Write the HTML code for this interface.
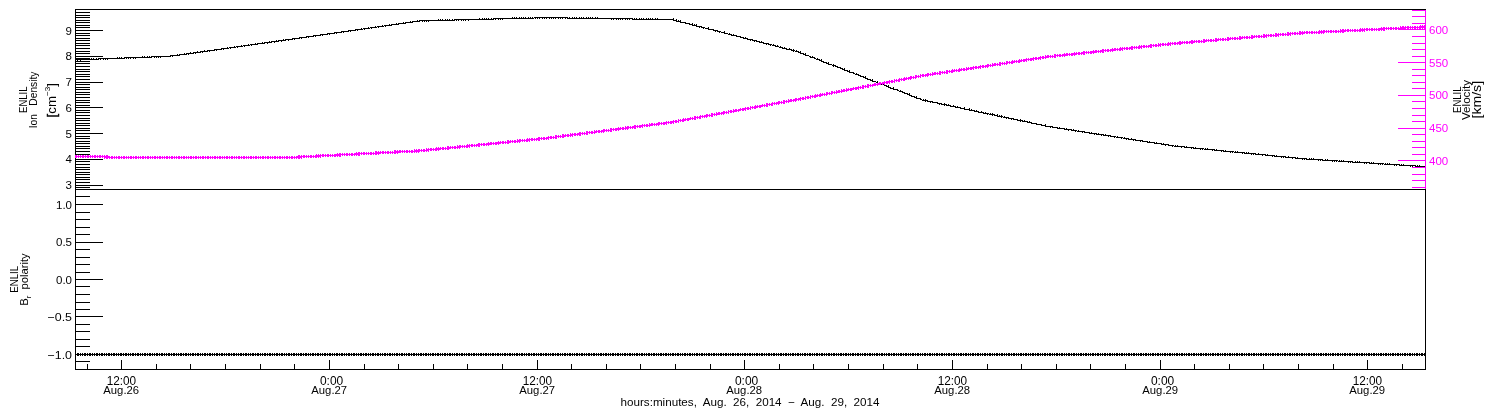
<!DOCTYPE html>
<html><head><meta charset="utf-8"><title>ENLIL plot</title>
<style>
html,body{margin:0;padding:0;background:#fff;}
svg{display:block}
text{font-family:"Liberation Sans",sans-serif}
</style></head><body>
<svg width="1500" height="410" viewBox="0 0 1500 410">
<rect x="0" y="0" width="1500" height="410" fill="#fff"/>
<g shape-rendering="crispEdges">
<path fill="#000" d="M75 9h1351v1h-1351zM75 10h1v1h-1zM75 11h1v1h-1zM75 12h15v1h-15zM75 13h1v1h-1zM75 14h1v1h-1zM75 15h15v1h-15zM75 16h1v1h-1zM75 17h15v1h-15zM512 17h1v1h-1zM514 17h1v1h-1zM516 17h1v1h-1zM519 17h1v1h-1zM521 17h1v1h-1zM523 17h1v1h-1zM525 17h1v1h-1zM528 17h1v1h-1zM530 17h1v1h-1zM532 17h1v1h-1zM534 17h34v1h-34zM569 17h1v1h-1zM572 17h1v1h-1zM574 17h1v1h-1zM576 17h1v1h-1zM579 17h1v1h-1zM581 17h1v1h-1zM583 17h1v1h-1zM586 17h1v1h-1zM588 17h1v1h-1zM590 17h1v1h-1zM592 17h1v1h-1zM595 17h1v1h-1zM597 17h1v1h-1zM75 18h1v1h-1zM479 18h1v1h-1zM482 18h1v1h-1zM484 18h1v1h-1zM486 18h1v1h-1zM488 18h1v1h-1zM491 18h1v1h-1zM493 18h41v1h-41zM535 18h1v1h-1zM537 18h1v1h-1zM539 18h1v1h-1zM542 18h1v1h-1zM544 18h1v1h-1zM546 18h1v1h-1zM549 18h1v1h-1zM551 18h1v1h-1zM553 18h1v1h-1zM555 18h1v1h-1zM558 18h1v1h-1zM560 18h1v1h-1zM562 18h1v1h-1zM565 18h1v1h-1zM567 18h66v1h-66zM634 18h1v1h-1zM636 18h1v1h-1zM639 18h1v1h-1zM641 18h1v1h-1zM643 18h1v1h-1zM646 18h1v1h-1zM648 18h1v1h-1zM650 18h1v1h-1zM652 18h1v1h-1zM655 18h1v1h-1zM657 18h1v1h-1zM673 18h1v1h-1zM75 19h1v1h-1zM438 19h1v1h-1zM440 19h1v1h-1zM442 19h1v1h-1zM445 19h1v1h-1zM447 19h1v1h-1zM449 19h1v1h-1zM452 19h1v1h-1zM454 19h40v1h-40zM495 19h1v1h-1zM498 19h1v1h-1zM500 19h1v1h-1zM502 19h1v1h-1zM611 19h1v1h-1zM613 19h1v1h-1zM616 19h1v1h-1zM618 19h1v1h-1zM620 19h1v1h-1zM622 19h1v1h-1zM625 19h1v1h-1zM627 19h1v1h-1zM629 19h1v1h-1zM632 19h42v1h-42zM676 19h1v1h-1zM75 20h15v1h-15zM417 20h1v1h-1zM419 20h36v1h-36zM456 20h1v1h-1zM458 20h1v1h-1zM461 20h1v1h-1zM463 20h1v1h-1zM465 20h1v1h-1zM468 20h1v1h-1zM673 20h4v1h-4zM678 20h1v1h-1zM680 20h1v1h-1zM75 21h1v1h-1zM410 21h1v1h-1zM412 21h8v1h-8zM422 21h1v1h-1zM424 21h1v1h-1zM426 21h1v1h-1zM428 21h1v1h-1zM676 21h5v1h-5zM75 22h15v1h-15zM403 22h1v1h-1zM405 22h8v1h-8zM680 22h6v1h-6zM75 23h1v1h-1zM396 23h1v1h-1zM398 23h8v1h-8zM685 23h5v1h-5zM692 23h1v1h-1zM75 24h1v1h-1zM389 24h1v1h-1zM391 24h8v1h-8zM689 24h4v1h-4zM694 24h1v1h-1zM696 24h1v1h-1zM75 25h15v1h-15zM382 25h1v1h-1zM384 25h8v1h-8zM692 25h5v1h-5zM75 26h1v1h-1zM375 26h1v1h-1zM377 26h7v1h-7zM385 26h1v1h-1zM696 26h6v1h-6zM75 27h15v1h-15zM368 27h1v1h-1zM370 27h7v1h-7zM378 27h1v1h-1zM699 27h1v1h-1zM701 27h4v1h-4zM708 27h1v1h-1zM75 28h1v1h-1zM361 28h1v1h-1zM363 28h7v1h-7zM371 28h1v1h-1zM703 28h1v1h-1zM705 28h4v1h-4zM75 29h1v1h-1zM355 29h8v1h-8zM364 29h1v1h-1zM708 29h6v1h-6zM75 30h28v1h-28zM348 30h8v1h-8zM357 30h1v1h-1zM713 30h5v1h-5zM75 31h1v1h-1zM341 31h8v1h-8zM350 31h1v1h-1zM715 31h1v1h-1zM717 31h4v1h-4zM724 31h1v1h-1zM75 32h1v1h-1zM334 32h8v1h-8zM343 32h1v1h-1zM719 32h1v1h-1zM721 32h4v1h-4zM75 33h15v1h-15zM327 33h8v1h-8zM336 33h1v1h-1zM724 33h4v1h-4zM729 33h1v1h-1zM75 34h1v1h-1zM320 34h8v1h-8zM329 34h1v1h-1zM728 34h4v1h-4zM733 34h1v1h-1zM75 35h15v1h-15zM313 35h8v1h-8zM322 35h1v1h-1zM731 35h6v1h-6zM75 36h1v1h-1zM306 36h8v1h-8zM315 36h1v1h-1zM736 36h5v1h-5zM75 37h1v1h-1zM299 37h8v1h-8zM308 37h1v1h-1zM740 37h4v1h-4zM745 37h1v1h-1zM75 38h15v1h-15zM292 38h8v1h-8zM301 38h1v1h-1zM743 38h5v1h-5zM75 39h1v1h-1zM283 39h1v1h-1zM285 39h8v1h-8zM294 39h1v1h-1zM747 39h6v1h-6zM75 40h15v1h-15zM276 40h1v1h-1zM278 40h8v1h-8zM288 40h1v1h-1zM750 40h1v1h-1zM752 40h5v1h-5zM75 41h1v1h-1zM269 41h1v1h-1zM271 41h8v1h-8zM281 41h1v1h-1zM754 41h1v1h-1zM756 41h4v1h-4zM761 41h1v1h-1zM75 42h1v1h-1zM262 42h1v1h-1zM264 42h8v1h-8zM274 42h1v1h-1zM759 42h5v1h-5zM75 43h15v1h-15zM255 43h1v1h-1zM257 43h8v1h-8zM267 43h1v1h-1zM763 43h6v1h-6zM75 44h1v1h-1zM248 44h1v1h-1zM250 44h8v1h-8zM766 44h1v1h-1zM768 44h4v1h-4zM773 44h1v1h-1zM75 45h15v1h-15zM241 45h1v1h-1zM243 45h7v1h-7zM251 45h1v1h-1zM770 45h1v1h-1zM772 45h4v1h-4zM777 45h1v1h-1zM75 46h1v1h-1zM234 46h1v1h-1zM236 46h7v1h-7zM244 46h1v1h-1zM775 46h4v1h-4zM780 46h1v1h-1zM75 47h1v1h-1zM227 47h1v1h-1zM229 47h7v1h-7zM237 47h1v1h-1zM779 47h4v1h-4zM784 47h1v1h-1zM75 48h15v1h-15zM221 48h8v1h-8zM230 48h1v1h-1zM782 48h5v1h-5zM789 48h1v1h-1zM75 49h1v1h-1zM214 49h8v1h-8zM223 49h1v1h-1zM786 49h6v1h-6zM793 49h1v1h-1zM75 50h1v1h-1zM204 50h1v1h-1zM207 50h8v1h-8zM216 50h1v1h-1zM791 50h4v1h-4zM796 50h1v1h-1zM75 51h15v1h-15zM197 51h1v1h-1zM200 51h8v1h-8zM209 51h1v1h-1zM793 51h1v1h-1zM795 51h4v1h-4zM800 51h1v1h-1zM75 52h1v1h-1zM190 52h1v1h-1zM193 52h8v1h-8zM202 52h1v1h-1zM798 52h3v1h-3zM75 53h15v1h-15zM184 53h1v1h-1zM186 53h8v1h-8zM195 53h1v1h-1zM800 53h4v1h-4zM805 53h1v1h-1zM75 54h1v1h-1zM177 54h1v1h-1zM179 54h8v1h-8zM188 54h1v1h-1zM803 54h3v1h-3zM75 55h1v1h-1zM170 55h10v1h-10zM805 55h4v1h-4zM75 56h28v1h-28zM142 56h1v1h-1zM144 56h1v1h-1zM147 56h1v1h-1zM149 56h1v1h-1zM151 56h20v1h-20zM172 56h1v1h-1zM809 56h2v1h-2zM812 56h1v1h-1zM75 57h1v1h-1zM117 57h1v1h-1zM119 57h1v1h-1zM121 57h1v1h-1zM124 57h28v1h-28zM154 57h1v1h-1zM156 57h1v1h-1zM158 57h1v1h-1zM160 57h1v1h-1zM810 57h5v1h-5zM75 58h15v1h-15zM91 58h1v1h-1zM93 58h1v1h-1zM96 58h1v1h-1zM98 58h27v1h-27zM126 58h1v1h-1zM128 58h1v1h-1zM130 58h1v1h-1zM133 58h1v1h-1zM135 58h1v1h-1zM814 58h2v1h-2zM817 58h1v1h-1zM75 59h24v1h-24zM100 59h1v1h-1zM103 59h1v1h-1zM105 59h1v1h-1zM107 59h1v1h-1zM816 59h4v1h-4zM821 59h1v1h-1zM75 60h1v1h-1zM77 60h1v1h-1zM80 60h1v1h-1zM819 60h3v1h-3zM75 61h15v1h-15zM821 61h3v1h-3zM75 62h1v1h-1zM823 62h4v1h-4zM828 62h1v1h-1zM75 63h15v1h-15zM826 63h3v1h-3zM75 64h1v1h-1zM828 64h4v1h-4zM833 64h1v1h-1zM75 65h1v1h-1zM832 65h4v1h-4zM75 66h15v1h-15zM833 66h1v1h-1zM835 66h3v1h-3zM75 67h1v1h-1zM837 67h4v1h-4zM75 68h1v1h-1zM840 68h3v1h-3zM844 68h1v1h-1zM75 69h15v1h-15zM842 69h3v1h-3zM75 70h1v1h-1zM844 70h4v1h-4zM849 70h1v1h-1zM75 71h15v1h-15zM847 71h3v1h-3zM75 72h1v1h-1zM849 72h5v1h-5zM75 73h1v1h-1zM853 73h2v1h-2zM856 73h1v1h-1zM75 74h15v1h-15zM855 74h4v1h-4zM75 75h1v1h-1zM858 75h3v1h-3zM75 76h15v1h-15zM860 76h4v1h-4zM865 76h1v1h-1zM75 77h1v1h-1zM863 77h3v1h-3zM75 78h1v1h-1zM865 78h3v1h-3zM75 79h15v1h-15zM867 79h4v1h-4zM872 79h1v1h-1zM75 80h1v1h-1zM870 80h3v1h-3zM75 81h1v1h-1zM872 81h4v1h-4zM877 81h1v1h-1zM75 82h28v1h-28zM876 82h2v1h-2zM75 83h1v1h-1zM75 84h15v1h-15zM881 84h1v1h-1zM883 84h1v1h-1zM75 85h1v1h-1zM884 85h3v1h-3zM888 85h1v1h-1zM75 86h1v1h-1zM886 86h3v1h-3zM75 87h15v1h-15zM888 87h3v1h-3zM893 87h1v1h-1zM75 88h1v1h-1zM890 88h4v1h-4zM75 89h15v1h-15zM893 89h5v1h-5zM75 90h1v1h-1zM897 90h2v1h-2zM900 90h1v1h-1zM75 91h1v1h-1zM899 91h4v1h-4zM75 92h15v1h-15zM902 92h3v1h-3zM75 93h1v1h-1zM904 93h4v1h-4zM909 93h1v1h-1zM75 94h15v1h-15zM907 94h3v1h-3zM75 95h1v1h-1zM909 95h3v1h-3zM75 96h1v1h-1zM911 96h4v1h-4zM916 96h1v1h-1zM75 97h15v1h-15zM914 97h3v1h-3zM75 98h1v1h-1zM916 98h5v1h-5zM75 99h1v1h-1zM920 99h2v1h-2zM923 99h1v1h-1zM925 99h1v1h-1zM75 100h15v1h-15zM922 100h6v1h-6zM75 101h1v1h-1zM925 101h1v1h-1zM927 101h6v1h-6zM75 102h15v1h-15zM930 102h1v1h-1zM932 102h6v1h-6zM75 103h1v1h-1zM937 103h5v1h-5zM944 103h1v1h-1zM75 104h1v1h-1zM939 104h1v1h-1zM941 104h6v1h-6zM948 104h1v1h-1zM75 105h15v1h-15zM944 105h1v1h-1zM946 105h5v1h-5zM953 105h1v1h-1zM75 106h1v1h-1zM950 106h6v1h-6zM957 106h1v1h-1zM75 107h28v1h-28zM955 107h6v1h-6zM964 107h1v1h-1zM75 108h1v1h-1zM960 108h5v1h-5zM969 108h1v1h-1zM75 109h1v1h-1zM964 109h6v1h-6zM971 109h1v1h-1zM75 110h15v1h-15zM969 110h6v1h-6zM976 110h1v1h-1zM75 111h1v1h-1zM974 111h5v1h-5zM981 111h1v1h-1zM75 112h15v1h-15zM978 112h6v1h-6zM985 112h1v1h-1zM75 113h1v1h-1zM983 113h6v1h-6zM990 113h1v1h-1zM992 113h1v1h-1zM75 114h1v1h-1zM987 114h1v1h-1zM989 114h6v1h-6zM997 114h1v1h-1zM75 115h15v1h-15zM992 115h1v1h-1zM994 115h4v1h-4zM999 115h1v1h-1zM1001 115h1v1h-1zM75 116h1v1h-1zM997 116h6v1h-6zM1004 116h1v1h-1zM75 117h1v1h-1zM1001 117h1v1h-1zM1003 117h6v1h-6zM75 118h15v1h-15zM1006 118h1v1h-1zM1008 118h6v1h-6zM75 119h1v1h-1zM1011 119h1v1h-1zM1013 119h5v1h-5zM1020 119h1v1h-1zM75 120h15v1h-15zM1017 120h6v1h-6zM1024 120h1v1h-1zM75 121h1v1h-1zM1020 121h1v1h-1zM1022 121h6v1h-6zM1029 121h1v1h-1zM75 122h1v1h-1zM1027 122h5v1h-5zM75 123h15v1h-15zM1031 123h6v1h-6zM75 124h1v1h-1zM1036 124h6v1h-6zM1045 124h1v1h-1zM75 125h15v1h-15zM1041 125h5v1h-5zM75 126h1v1h-1zM1045 126h8v1h-8zM75 127h1v1h-1zM1050 127h1v1h-1zM1052 127h6v1h-6zM1059 127h1v1h-1zM75 128h15v1h-15zM1057 128h8v1h-8zM1066 128h1v1h-1zM75 129h1v1h-1zM1064 129h8v1h-8zM1073 129h1v1h-1zM75 130h15v1h-15zM1068 130h1v1h-1zM1071 130h6v1h-6zM1078 130h1v1h-1zM75 131h1v1h-1zM1075 131h1v1h-1zM1077 131h8v1h-8zM75 132h1v1h-1zM1082 132h1v1h-1zM1084 132h6v1h-6zM1091 132h1v1h-1zM75 133h28v1h-28zM1089 133h8v1h-8zM1098 133h1v1h-1zM75 134h1v1h-1zM1094 134h1v1h-1zM1096 134h8v1h-8zM1105 134h1v1h-1zM75 135h1v1h-1zM1101 135h1v1h-1zM1103 135h8v1h-8zM75 136h15v1h-15zM1108 136h1v1h-1zM1110 136h6v1h-6zM1117 136h1v1h-1zM75 137h1v1h-1zM1114 137h1v1h-1zM1116 137h7v1h-7zM1124 137h1v1h-1zM75 138h15v1h-15zM1121 138h1v1h-1zM1123 138h6v1h-6zM1131 138h1v1h-1zM75 139h1v1h-1zM1126 139h1v1h-1zM1128 139h8v1h-8zM75 140h1v1h-1zM1133 140h1v1h-1zM1135 140h8v1h-8zM75 141h15v1h-15zM1140 141h1v1h-1zM1142 141h6v1h-6zM1149 141h1v1h-1zM75 142h1v1h-1zM1147 142h8v1h-8zM1156 142h1v1h-1zM75 143h15v1h-15zM1154 143h8v1h-8zM1163 143h1v1h-1zM75 144h1v1h-1zM1161 144h8v1h-8zM75 145h1v1h-1zM1165 145h1v1h-1zM1168 145h6v1h-6zM1175 145h1v1h-1zM1177 145h1v1h-1zM75 146h15v1h-15zM1172 146h1v1h-1zM1174 146h11v1h-11zM1186 146h1v1h-1zM75 147h1v1h-1zM1181 147h1v1h-1zM1184 147h10v1h-10zM1195 147h1v1h-1zM75 148h15v1h-15zM1191 148h1v1h-1zM1193 148h11v1h-11zM1205 148h1v1h-1zM1207 148h1v1h-1zM75 149h1v1h-1zM1200 149h1v1h-1zM1202 149h1v1h-1zM1204 149h11v1h-11zM1216 149h1v1h-1zM75 150h1v1h-1zM1212 150h1v1h-1zM1214 150h10v1h-10zM1225 150h1v1h-1zM75 151h15v1h-15zM1221 151h1v1h-1zM1223 151h11v1h-11zM1235 151h1v1h-1zM1237 151h1v1h-1zM75 152h1v1h-1zM1230 152h1v1h-1zM1232 152h1v1h-1zM1234 152h11v1h-11zM1246 152h1v1h-1zM1248 152h1v1h-1zM75 153h1v1h-1zM1242 153h1v1h-1zM1244 153h12v1h-12zM1258 153h1v1h-1zM75 154h15v1h-15zM1251 154h1v1h-1zM1253 154h1v1h-1zM1255 154h11v1h-11zM1267 154h1v1h-1zM1262 155h1v1h-1zM1265 155h10v1h-10zM1276 155h1v1h-1zM1272 156h1v1h-1zM1274 156h12v1h-12zM1288 156h1v1h-1zM1281 157h1v1h-1zM1283 157h1v1h-1zM1285 157h11v1h-11zM1297 157h1v1h-1zM75 158h1v1h-1zM1292 158h1v1h-1zM1295 158h12v1h-12zM1309 158h1v1h-1zM1311 158h1v1h-1zM1313 158h1v1h-1zM75 159h28v1h-28zM1302 159h1v1h-1zM1304 159h1v1h-1zM1306 159h17v1h-17zM1325 159h1v1h-1zM1327 159h1v1h-1zM75 160h1v1h-1zM1318 160h1v1h-1zM1320 160h1v1h-1zM1322 160h16v1h-16zM1339 160h1v1h-1zM1341 160h1v1h-1zM1343 160h1v1h-1zM75 161h15v1h-15zM1332 161h1v1h-1zM1334 161h1v1h-1zM1336 161h1v1h-1zM1338 161h15v1h-15zM1355 161h1v1h-1zM1357 161h1v1h-1zM1359 161h1v1h-1zM75 162h1v1h-1zM1348 162h1v1h-1zM1350 162h1v1h-1zM1352 162h18v1h-18zM1371 162h1v1h-1zM1373 162h1v1h-1zM75 163h1v1h-1zM1364 163h1v1h-1zM1366 163h1v1h-1zM1369 163h15v1h-15zM1385 163h1v1h-1zM1387 163h1v1h-1zM1389 163h1v1h-1zM75 164h15v1h-15zM1378 164h1v1h-1zM1380 164h1v1h-1zM1382 164h1v1h-1zM1384 164h16v1h-16zM1401 164h1v1h-1zM1403 164h1v1h-1zM75 165h1v1h-1zM1394 165h1v1h-1zM1396 165h1v1h-1zM1399 165h17v1h-17zM1417 165h1v1h-1zM1419 165h1v1h-1zM75 166h1v1h-1zM1410 166h1v1h-1zM1412 166h1v1h-1zM1415 166h10v1h-10zM75 167h15v1h-15zM75 168h1v1h-1zM75 169h15v1h-15zM75 170h1v1h-1zM75 171h1v1h-1zM75 172h15v1h-15zM75 173h1v1h-1zM75 174h15v1h-15zM75 175h1v1h-1zM75 176h1v1h-1zM75 177h15v1h-15zM75 178h1v1h-1zM75 179h15v1h-15zM75 180h1v1h-1zM75 181h1v1h-1zM75 182h15v1h-15zM75 183h1v1h-1zM75 184h1v1h-1zM75 185h28v1h-28zM75 186h1v1h-1zM75 187h15v1h-15zM75 188h1v1h-1zM75 189h1351v1h-1351zM75 190h1v1h-1zM1425 190h1v1h-1zM75 191h1v1h-1zM1425 191h1v1h-1zM75 192h1v1h-1zM1425 192h1v1h-1zM75 193h1v1h-1zM1425 193h1v1h-1zM75 194h1v1h-1zM1425 194h1v1h-1zM75 195h1v1h-1zM1425 195h1v1h-1zM75 196h15v1h-15zM1425 196h1v1h-1zM75 197h1v1h-1zM1425 197h1v1h-1zM75 198h1v1h-1zM1425 198h1v1h-1zM75 199h1v1h-1zM1425 199h1v1h-1zM75 200h1v1h-1zM1425 200h1v1h-1zM75 201h1v1h-1zM1425 201h1v1h-1zM75 202h1v1h-1zM1425 202h1v1h-1zM75 203h1v1h-1zM1425 203h1v1h-1zM75 204h28v1h-28zM1425 204h1v1h-1zM75 205h1v1h-1zM1425 205h1v1h-1zM75 206h1v1h-1zM1425 206h1v1h-1zM75 207h1v1h-1zM1425 207h1v1h-1zM75 208h1v1h-1zM1425 208h1v1h-1zM75 209h1v1h-1zM1425 209h1v1h-1zM75 210h1v1h-1zM1425 210h1v1h-1zM75 211h1v1h-1zM1425 211h1v1h-1zM75 212h15v1h-15zM1425 212h1v1h-1zM75 213h1v1h-1zM1425 213h1v1h-1zM75 214h1v1h-1zM1425 214h1v1h-1zM75 215h1v1h-1zM1425 215h1v1h-1zM75 216h1v1h-1zM1425 216h1v1h-1zM75 217h1v1h-1zM1425 217h1v1h-1zM75 218h1v1h-1zM1425 218h1v1h-1zM75 219h15v1h-15zM1425 219h1v1h-1zM75 220h1v1h-1zM1425 220h1v1h-1zM75 221h1v1h-1zM1425 221h1v1h-1zM75 222h1v1h-1zM1425 222h1v1h-1zM75 223h1v1h-1zM1425 223h1v1h-1zM75 224h1v1h-1zM1425 224h1v1h-1zM75 225h1v1h-1zM1425 225h1v1h-1zM75 226h1v1h-1zM1425 226h1v1h-1zM75 227h15v1h-15zM1425 227h1v1h-1zM75 228h1v1h-1zM1425 228h1v1h-1zM75 229h1v1h-1zM1425 229h1v1h-1zM75 230h1v1h-1zM1425 230h1v1h-1zM75 231h1v1h-1zM1425 231h1v1h-1zM75 232h1v1h-1zM1425 232h1v1h-1zM75 233h1v1h-1zM1425 233h1v1h-1zM75 234h15v1h-15zM1425 234h1v1h-1zM75 235h1v1h-1zM1425 235h1v1h-1zM75 236h1v1h-1zM1425 236h1v1h-1zM75 237h1v1h-1zM1425 237h1v1h-1zM75 238h1v1h-1zM1425 238h1v1h-1zM75 239h1v1h-1zM1425 239h1v1h-1zM75 240h1v1h-1zM1425 240h1v1h-1zM75 241h1v1h-1zM1425 241h1v1h-1zM75 242h28v1h-28zM1425 242h1v1h-1zM75 243h1v1h-1zM1425 243h1v1h-1zM75 244h1v1h-1zM1425 244h1v1h-1zM75 245h1v1h-1zM1425 245h1v1h-1zM75 246h1v1h-1zM1425 246h1v1h-1zM75 247h1v1h-1zM1425 247h1v1h-1zM75 248h1v1h-1zM1425 248h1v1h-1zM75 249h15v1h-15zM1425 249h1v1h-1zM75 250h1v1h-1zM1425 250h1v1h-1zM75 251h1v1h-1zM1425 251h1v1h-1zM75 252h1v1h-1zM1425 252h1v1h-1zM75 253h1v1h-1zM1425 253h1v1h-1zM75 254h1v1h-1zM1425 254h1v1h-1zM75 255h1v1h-1zM1425 255h1v1h-1zM75 256h1v1h-1zM1425 256h1v1h-1zM75 257h15v1h-15zM1425 257h1v1h-1zM75 258h1v1h-1zM1425 258h1v1h-1zM75 259h1v1h-1zM1425 259h1v1h-1zM75 260h1v1h-1zM1425 260h1v1h-1zM75 261h1v1h-1zM1425 261h1v1h-1zM75 262h1v1h-1zM1425 262h1v1h-1zM75 263h1v1h-1zM1425 263h1v1h-1zM75 264h15v1h-15zM1425 264h1v1h-1zM75 265h1v1h-1zM1425 265h1v1h-1zM75 266h1v1h-1zM1425 266h1v1h-1zM75 267h1v1h-1zM1425 267h1v1h-1zM75 268h1v1h-1zM1425 268h1v1h-1zM75 269h1v1h-1zM1425 269h1v1h-1zM75 270h1v1h-1zM1425 270h1v1h-1zM75 271h1v1h-1zM1425 271h1v1h-1zM75 272h15v1h-15zM1425 272h1v1h-1zM75 273h1v1h-1zM1425 273h1v1h-1zM75 274h1v1h-1zM1425 274h1v1h-1zM75 275h1v1h-1zM1425 275h1v1h-1zM75 276h1v1h-1zM1425 276h1v1h-1zM75 277h1v1h-1zM1425 277h1v1h-1zM75 278h1v1h-1zM1425 278h1v1h-1zM75 279h28v1h-28zM1425 279h1v1h-1zM75 280h1v1h-1zM1425 280h1v1h-1zM75 281h1v1h-1zM1425 281h1v1h-1zM75 282h1v1h-1zM1425 282h1v1h-1zM75 283h1v1h-1zM1425 283h1v1h-1zM75 284h1v1h-1zM1425 284h1v1h-1zM75 285h1v1h-1zM1425 285h1v1h-1zM75 286h15v1h-15zM1425 286h1v1h-1zM75 287h1v1h-1zM1425 287h1v1h-1zM75 288h1v1h-1zM1425 288h1v1h-1zM75 289h1v1h-1zM1425 289h1v1h-1zM75 290h1v1h-1zM1425 290h1v1h-1zM75 291h1v1h-1zM1425 291h1v1h-1zM75 292h1v1h-1zM1425 292h1v1h-1zM75 293h1v1h-1zM1425 293h1v1h-1zM75 294h15v1h-15zM1425 294h1v1h-1zM75 295h1v1h-1zM1425 295h1v1h-1zM75 296h1v1h-1zM1425 296h1v1h-1zM75 297h1v1h-1zM1425 297h1v1h-1zM75 298h1v1h-1zM1425 298h1v1h-1zM75 299h1v1h-1zM1425 299h1v1h-1zM75 300h1v1h-1zM1425 300h1v1h-1zM75 301h1v1h-1zM1425 301h1v1h-1zM75 302h15v1h-15zM1425 302h1v1h-1zM75 303h1v1h-1zM1425 303h1v1h-1zM75 304h1v1h-1zM1425 304h1v1h-1zM75 305h1v1h-1zM1425 305h1v1h-1zM75 306h1v1h-1zM1425 306h1v1h-1zM75 307h1v1h-1zM1425 307h1v1h-1zM75 308h1v1h-1zM1425 308h1v1h-1zM75 309h15v1h-15zM1425 309h1v1h-1zM75 310h1v1h-1zM1425 310h1v1h-1zM75 311h1v1h-1zM1425 311h1v1h-1zM75 312h1v1h-1zM1425 312h1v1h-1zM75 313h1v1h-1zM1425 313h1v1h-1zM75 314h1v1h-1zM1425 314h1v1h-1zM75 315h1v1h-1zM1425 315h1v1h-1zM75 316h28v1h-28zM1425 316h1v1h-1zM75 317h1v1h-1zM1425 317h1v1h-1zM75 318h1v1h-1zM1425 318h1v1h-1zM75 319h1v1h-1zM1425 319h1v1h-1zM75 320h1v1h-1zM1425 320h1v1h-1zM75 321h1v1h-1zM1425 321h1v1h-1zM75 322h1v1h-1zM1425 322h1v1h-1zM75 323h1v1h-1zM1425 323h1v1h-1zM75 324h15v1h-15zM1425 324h1v1h-1zM75 325h1v1h-1zM1425 325h1v1h-1zM75 326h1v1h-1zM1425 326h1v1h-1zM75 327h1v1h-1zM1425 327h1v1h-1zM75 328h1v1h-1zM1425 328h1v1h-1zM75 329h1v1h-1zM1425 329h1v1h-1zM75 330h1v1h-1zM1425 330h1v1h-1zM75 331h15v1h-15zM1425 331h1v1h-1zM75 332h1v1h-1zM1425 332h1v1h-1zM75 333h1v1h-1zM1425 333h1v1h-1zM75 334h1v1h-1zM1425 334h1v1h-1zM75 335h1v1h-1zM1425 335h1v1h-1zM75 336h1v1h-1zM1425 336h1v1h-1zM75 337h1v1h-1zM1425 337h1v1h-1zM75 338h1v1h-1zM1425 338h1v1h-1zM75 339h15v1h-15zM1425 339h1v1h-1zM75 340h1v1h-1zM1425 340h1v1h-1zM75 341h1v1h-1zM1425 341h1v1h-1zM75 342h1v1h-1zM1425 342h1v1h-1zM75 343h1v1h-1zM1425 343h1v1h-1zM75 344h1v1h-1zM1425 344h1v1h-1zM75 345h1v1h-1zM1425 345h1v1h-1zM75 346h15v1h-15zM1425 346h1v1h-1zM75 347h1v1h-1zM1425 347h1v1h-1zM75 348h1v1h-1zM1425 348h1v1h-1zM75 349h1v1h-1zM1425 349h1v1h-1zM75 350h1v1h-1zM1425 350h1v1h-1zM75 351h1v1h-1zM1425 351h1v1h-1zM75 352h1v1h-1zM1425 352h1v1h-1zM75 353h1v1h-1zM77 353h2v1h-2zM80 353h1v1h-1zM82 353h1v1h-1zM84 353h2v1h-2zM87 353h1v1h-1zM89 353h2v1h-2zM92 353h1v1h-1zM94 353h1v1h-1zM96 353h2v1h-2zM99 353h1v1h-1zM101 353h2v1h-2zM104 353h1v1h-1zM106 353h1v1h-1zM108 353h2v1h-2zM111 353h1v1h-1zM113 353h2v1h-2zM116 353h1v1h-1zM118 353h1v1h-1zM120 353h2v1h-2zM123 353h1v1h-1zM125 353h2v1h-2zM128 353h1v1h-1zM130 353h1v1h-1zM132 353h2v1h-2zM135 353h1v1h-1zM137 353h2v1h-2zM140 353h1v1h-1zM142 353h1v1h-1zM144 353h2v1h-2zM147 353h1v1h-1zM149 353h2v1h-2zM152 353h1v1h-1zM154 353h1v1h-1zM156 353h2v1h-2zM159 353h1v1h-1zM161 353h2v1h-2zM164 353h1v1h-1zM166 353h1v1h-1zM168 353h2v1h-2zM171 353h1v1h-1zM173 353h2v1h-2zM176 353h1v1h-1zM178 353h1v1h-1zM180 353h2v1h-2zM183 353h1v1h-1zM185 353h2v1h-2zM188 353h1v1h-1zM190 353h1v1h-1zM192 353h2v1h-2zM195 353h1v1h-1zM197 353h2v1h-2zM200 353h1v1h-1zM202 353h1v1h-1zM204 353h2v1h-2zM207 353h1v1h-1zM209 353h2v1h-2zM212 353h1v1h-1zM214 353h1v1h-1zM216 353h2v1h-2zM219 353h1v1h-1zM221 353h2v1h-2zM224 353h1v1h-1zM226 353h1v1h-1zM228 353h2v1h-2zM231 353h1v1h-1zM233 353h2v1h-2zM236 353h1v1h-1zM238 353h1v1h-1zM240 353h2v1h-2zM243 353h1v1h-1zM245 353h2v1h-2zM248 353h1v1h-1zM250 353h1v1h-1zM252 353h2v1h-2zM255 353h1v1h-1zM257 353h2v1h-2zM260 353h1v1h-1zM262 353h1v1h-1zM264 353h2v1h-2zM267 353h1v1h-1zM269 353h2v1h-2zM272 353h1v1h-1zM274 353h1v1h-1zM276 353h2v1h-2zM279 353h1v1h-1zM281 353h2v1h-2zM284 353h1v1h-1zM286 353h1v1h-1zM288 353h2v1h-2zM291 353h1v1h-1zM293 353h2v1h-2zM296 353h1v1h-1zM298 353h1v1h-1zM300 353h2v1h-2zM303 353h1v1h-1zM305 353h2v1h-2zM308 353h1v1h-1zM310 353h1v1h-1zM312 353h2v1h-2zM315 353h1v1h-1zM317 353h2v1h-2zM320 353h1v1h-1zM322 353h1v1h-1zM324 353h2v1h-2zM327 353h1v1h-1zM329 353h2v1h-2zM332 353h1v1h-1zM334 353h1v1h-1zM336 353h2v1h-2zM339 353h1v1h-1zM341 353h2v1h-2zM344 353h1v1h-1zM346 353h1v1h-1zM348 353h2v1h-2zM351 353h1v1h-1zM353 353h2v1h-2zM356 353h1v1h-1zM358 353h1v1h-1zM360 353h2v1h-2zM363 353h1v1h-1zM365 353h2v1h-2zM368 353h1v1h-1zM370 353h1v1h-1zM372 353h2v1h-2zM375 353h1v1h-1zM377 353h2v1h-2zM380 353h1v1h-1zM382 353h1v1h-1zM384 353h2v1h-2zM387 353h1v1h-1zM389 353h2v1h-2zM392 353h1v1h-1zM394 353h1v1h-1zM396 353h2v1h-2zM399 353h1v1h-1zM401 353h2v1h-2zM404 353h1v1h-1zM406 353h1v1h-1zM408 353h2v1h-2zM411 353h1v1h-1zM413 353h2v1h-2zM416 353h1v1h-1zM418 353h1v1h-1zM420 353h2v1h-2zM423 353h1v1h-1zM425 353h2v1h-2zM428 353h1v1h-1zM430 353h1v1h-1zM432 353h2v1h-2zM435 353h1v1h-1zM437 353h2v1h-2zM440 353h1v1h-1zM442 353h1v1h-1zM444 353h2v1h-2zM447 353h1v1h-1zM449 353h2v1h-2zM452 353h1v1h-1zM454 353h1v1h-1zM456 353h2v1h-2zM459 353h1v1h-1zM461 353h2v1h-2zM464 353h1v1h-1zM466 353h1v1h-1zM468 353h2v1h-2zM471 353h1v1h-1zM473 353h2v1h-2zM476 353h1v1h-1zM478 353h1v1h-1zM480 353h2v1h-2zM483 353h1v1h-1zM485 353h2v1h-2zM488 353h1v1h-1zM490 353h1v1h-1zM492 353h2v1h-2zM495 353h1v1h-1zM497 353h2v1h-2zM500 353h1v1h-1zM502 353h1v1h-1zM504 353h2v1h-2zM507 353h1v1h-1zM509 353h2v1h-2zM512 353h1v1h-1zM514 353h1v1h-1zM516 353h2v1h-2zM519 353h1v1h-1zM521 353h2v1h-2zM524 353h1v1h-1zM526 353h1v1h-1zM528 353h2v1h-2zM531 353h1v1h-1zM533 353h2v1h-2zM536 353h1v1h-1zM538 353h1v1h-1zM540 353h2v1h-2zM543 353h1v1h-1zM545 353h2v1h-2zM548 353h1v1h-1zM550 353h1v1h-1zM552 353h2v1h-2zM555 353h1v1h-1zM557 353h2v1h-2zM560 353h1v1h-1zM562 353h1v1h-1zM564 353h2v1h-2zM567 353h1v1h-1zM569 353h2v1h-2zM572 353h1v1h-1zM574 353h1v1h-1zM576 353h2v1h-2zM579 353h1v1h-1zM581 353h2v1h-2zM584 353h1v1h-1zM586 353h1v1h-1zM588 353h2v1h-2zM591 353h1v1h-1zM593 353h2v1h-2zM596 353h1v1h-1zM598 353h1v1h-1zM600 353h2v1h-2zM603 353h1v1h-1zM605 353h2v1h-2zM608 353h1v1h-1zM610 353h1v1h-1zM612 353h2v1h-2zM615 353h1v1h-1zM617 353h2v1h-2zM620 353h1v1h-1zM622 353h1v1h-1zM624 353h2v1h-2zM627 353h1v1h-1zM629 353h2v1h-2zM632 353h1v1h-1zM634 353h1v1h-1zM636 353h2v1h-2zM639 353h1v1h-1zM641 353h2v1h-2zM644 353h1v1h-1zM646 353h1v1h-1zM648 353h2v1h-2zM651 353h1v1h-1zM653 353h2v1h-2zM656 353h1v1h-1zM658 353h1v1h-1zM660 353h2v1h-2zM663 353h1v1h-1zM665 353h2v1h-2zM668 353h1v1h-1zM670 353h1v1h-1zM672 353h2v1h-2zM675 353h1v1h-1zM677 353h2v1h-2zM680 353h1v1h-1zM682 353h1v1h-1zM684 353h2v1h-2zM687 353h1v1h-1zM689 353h2v1h-2zM692 353h1v1h-1zM694 353h1v1h-1zM696 353h2v1h-2zM699 353h1v1h-1zM701 353h2v1h-2zM704 353h1v1h-1zM706 353h1v1h-1zM708 353h2v1h-2zM711 353h1v1h-1zM713 353h2v1h-2zM716 353h1v1h-1zM718 353h1v1h-1zM720 353h2v1h-2zM723 353h1v1h-1zM725 353h2v1h-2zM728 353h1v1h-1zM730 353h1v1h-1zM732 353h2v1h-2zM735 353h1v1h-1zM737 353h2v1h-2zM740 353h1v1h-1zM742 353h1v1h-1zM744 353h2v1h-2zM747 353h1v1h-1zM749 353h2v1h-2zM752 353h1v1h-1zM754 353h1v1h-1zM756 353h2v1h-2zM759 353h1v1h-1zM761 353h2v1h-2zM764 353h1v1h-1zM766 353h1v1h-1zM768 353h2v1h-2zM771 353h1v1h-1zM773 353h2v1h-2zM776 353h1v1h-1zM778 353h1v1h-1zM780 353h2v1h-2zM783 353h1v1h-1zM785 353h2v1h-2zM788 353h1v1h-1zM790 353h1v1h-1zM792 353h2v1h-2zM795 353h1v1h-1zM797 353h2v1h-2zM800 353h1v1h-1zM802 353h1v1h-1zM804 353h2v1h-2zM807 353h1v1h-1zM809 353h2v1h-2zM812 353h1v1h-1zM814 353h1v1h-1zM816 353h2v1h-2zM819 353h1v1h-1zM821 353h2v1h-2zM824 353h1v1h-1zM826 353h1v1h-1zM828 353h2v1h-2zM831 353h1v1h-1zM833 353h2v1h-2zM836 353h1v1h-1zM838 353h1v1h-1zM840 353h2v1h-2zM843 353h1v1h-1zM845 353h2v1h-2zM848 353h1v1h-1zM850 353h1v1h-1zM852 353h2v1h-2zM855 353h1v1h-1zM857 353h2v1h-2zM860 353h1v1h-1zM862 353h1v1h-1zM864 353h2v1h-2zM867 353h1v1h-1zM869 353h2v1h-2zM872 353h1v1h-1zM874 353h1v1h-1zM876 353h2v1h-2zM879 353h1v1h-1zM881 353h2v1h-2zM884 353h1v1h-1zM886 353h1v1h-1zM888 353h2v1h-2zM891 353h1v1h-1zM893 353h2v1h-2zM896 353h1v1h-1zM898 353h1v1h-1zM900 353h2v1h-2zM903 353h1v1h-1zM905 353h2v1h-2zM908 353h1v1h-1zM910 353h1v1h-1zM912 353h2v1h-2zM915 353h1v1h-1zM917 353h2v1h-2zM920 353h1v1h-1zM922 353h1v1h-1zM924 353h2v1h-2zM927 353h1v1h-1zM929 353h2v1h-2zM932 353h1v1h-1zM934 353h1v1h-1zM936 353h2v1h-2zM939 353h1v1h-1zM941 353h2v1h-2zM944 353h1v1h-1zM946 353h1v1h-1zM948 353h2v1h-2zM951 353h1v1h-1zM953 353h2v1h-2zM956 353h1v1h-1zM958 353h1v1h-1zM960 353h2v1h-2zM963 353h1v1h-1zM965 353h2v1h-2zM968 353h1v1h-1zM970 353h1v1h-1zM972 353h2v1h-2zM975 353h1v1h-1zM977 353h2v1h-2zM980 353h1v1h-1zM982 353h1v1h-1zM984 353h2v1h-2zM987 353h1v1h-1zM989 353h2v1h-2zM992 353h1v1h-1zM994 353h1v1h-1zM996 353h2v1h-2zM999 353h1v1h-1zM1001 353h2v1h-2zM1004 353h1v1h-1zM1006 353h1v1h-1zM1008 353h2v1h-2zM1011 353h1v1h-1zM1013 353h2v1h-2zM1016 353h1v1h-1zM1018 353h1v1h-1zM1020 353h2v1h-2zM1023 353h1v1h-1zM1025 353h2v1h-2zM1028 353h1v1h-1zM1030 353h1v1h-1zM1032 353h2v1h-2zM1035 353h1v1h-1zM1037 353h2v1h-2zM1040 353h1v1h-1zM1042 353h1v1h-1zM1044 353h2v1h-2zM1047 353h1v1h-1zM1049 353h2v1h-2zM1052 353h1v1h-1zM1054 353h1v1h-1zM1056 353h2v1h-2zM1059 353h1v1h-1zM1061 353h2v1h-2zM1064 353h1v1h-1zM1066 353h1v1h-1zM1068 353h2v1h-2zM1071 353h1v1h-1zM1073 353h2v1h-2zM1076 353h1v1h-1zM1078 353h1v1h-1zM1080 353h2v1h-2zM1083 353h1v1h-1zM1085 353h2v1h-2zM1088 353h1v1h-1zM1090 353h1v1h-1zM1092 353h2v1h-2zM1095 353h1v1h-1zM1097 353h2v1h-2zM1100 353h1v1h-1zM1102 353h1v1h-1zM1104 353h2v1h-2zM1107 353h1v1h-1zM1109 353h2v1h-2zM1112 353h1v1h-1zM1114 353h1v1h-1zM1116 353h2v1h-2zM1119 353h1v1h-1zM1121 353h2v1h-2zM1124 353h1v1h-1zM1126 353h1v1h-1zM1128 353h2v1h-2zM1131 353h1v1h-1zM1133 353h2v1h-2zM1136 353h1v1h-1zM1138 353h1v1h-1zM1140 353h2v1h-2zM1143 353h1v1h-1zM1145 353h2v1h-2zM1148 353h1v1h-1zM1150 353h1v1h-1zM1152 353h2v1h-2zM1155 353h1v1h-1zM1157 353h2v1h-2zM1160 353h1v1h-1zM1162 353h1v1h-1zM1164 353h2v1h-2zM1167 353h1v1h-1zM1169 353h2v1h-2zM1172 353h1v1h-1zM1174 353h1v1h-1zM1176 353h2v1h-2zM1179 353h1v1h-1zM1181 353h2v1h-2zM1184 353h1v1h-1zM1186 353h1v1h-1zM1188 353h2v1h-2zM1191 353h1v1h-1zM1193 353h2v1h-2zM1196 353h1v1h-1zM1198 353h1v1h-1zM1200 353h2v1h-2zM1203 353h1v1h-1zM1205 353h2v1h-2zM1208 353h1v1h-1zM1210 353h1v1h-1zM1212 353h2v1h-2zM1215 353h1v1h-1zM1217 353h2v1h-2zM1220 353h1v1h-1zM1222 353h1v1h-1zM1224 353h2v1h-2zM1227 353h1v1h-1zM1229 353h2v1h-2zM1232 353h1v1h-1zM1234 353h1v1h-1zM1236 353h2v1h-2zM1239 353h1v1h-1zM1241 353h2v1h-2zM1244 353h1v1h-1zM1246 353h1v1h-1zM1248 353h2v1h-2zM1251 353h1v1h-1zM1253 353h2v1h-2zM1256 353h1v1h-1zM1258 353h1v1h-1zM1260 353h2v1h-2zM1263 353h1v1h-1zM1265 353h2v1h-2zM1268 353h1v1h-1zM1270 353h1v1h-1zM1272 353h2v1h-2zM1275 353h1v1h-1zM1277 353h2v1h-2zM1280 353h1v1h-1zM1282 353h1v1h-1zM1284 353h2v1h-2zM1287 353h1v1h-1zM1289 353h2v1h-2zM1292 353h1v1h-1zM1294 353h1v1h-1zM1296 353h2v1h-2zM1299 353h1v1h-1zM1301 353h2v1h-2zM1304 353h1v1h-1zM1306 353h1v1h-1zM1308 353h2v1h-2zM1311 353h1v1h-1zM1313 353h2v1h-2zM1316 353h1v1h-1zM1318 353h1v1h-1zM1320 353h2v1h-2zM1323 353h1v1h-1zM1325 353h2v1h-2zM1328 353h1v1h-1zM1330 353h1v1h-1zM1332 353h2v1h-2zM1335 353h1v1h-1zM1337 353h2v1h-2zM1340 353h1v1h-1zM1342 353h1v1h-1zM1344 353h2v1h-2zM1347 353h1v1h-1zM1349 353h2v1h-2zM1352 353h1v1h-1zM1354 353h1v1h-1zM1356 353h2v1h-2zM1359 353h1v1h-1zM1361 353h2v1h-2zM1364 353h1v1h-1zM1366 353h1v1h-1zM1368 353h2v1h-2zM1371 353h1v1h-1zM1373 353h2v1h-2zM1376 353h1v1h-1zM1378 353h1v1h-1zM1380 353h2v1h-2zM1383 353h1v1h-1zM1385 353h2v1h-2zM1388 353h1v1h-1zM1390 353h1v1h-1zM1392 353h2v1h-2zM1395 353h1v1h-1zM1397 353h2v1h-2zM1400 353h1v1h-1zM1402 353h1v1h-1zM1404 353h2v1h-2zM1407 353h1v1h-1zM1409 353h2v1h-2zM1412 353h1v1h-1zM1414 353h1v1h-1zM1416 353h2v1h-2zM1419 353h1v1h-1zM1421 353h2v1h-2zM1424 353h2v1h-2zM75 354h1351v1h-1351zM75 355h1v1h-1zM77 355h2v1h-2zM80 355h1v1h-1zM82 355h1v1h-1zM84 355h2v1h-2zM87 355h1v1h-1zM89 355h2v1h-2zM92 355h1v1h-1zM94 355h1v1h-1zM96 355h2v1h-2zM99 355h1v1h-1zM101 355h2v1h-2zM104 355h1v1h-1zM106 355h1v1h-1zM108 355h2v1h-2zM111 355h1v1h-1zM113 355h2v1h-2zM116 355h1v1h-1zM118 355h1v1h-1zM120 355h2v1h-2zM123 355h1v1h-1zM125 355h2v1h-2zM128 355h1v1h-1zM130 355h1v1h-1zM132 355h2v1h-2zM135 355h1v1h-1zM137 355h2v1h-2zM140 355h1v1h-1zM142 355h1v1h-1zM144 355h2v1h-2zM147 355h1v1h-1zM149 355h2v1h-2zM152 355h1v1h-1zM154 355h1v1h-1zM156 355h2v1h-2zM159 355h1v1h-1zM161 355h2v1h-2zM164 355h1v1h-1zM166 355h1v1h-1zM168 355h2v1h-2zM171 355h1v1h-1zM173 355h2v1h-2zM176 355h1v1h-1zM178 355h1v1h-1zM180 355h2v1h-2zM183 355h1v1h-1zM185 355h2v1h-2zM188 355h1v1h-1zM190 355h1v1h-1zM192 355h2v1h-2zM195 355h1v1h-1zM197 355h2v1h-2zM200 355h1v1h-1zM202 355h1v1h-1zM204 355h2v1h-2zM207 355h1v1h-1zM209 355h2v1h-2zM212 355h1v1h-1zM214 355h1v1h-1zM216 355h2v1h-2zM219 355h1v1h-1zM221 355h2v1h-2zM224 355h1v1h-1zM226 355h1v1h-1zM228 355h2v1h-2zM231 355h1v1h-1zM233 355h2v1h-2zM236 355h1v1h-1zM238 355h1v1h-1zM240 355h2v1h-2zM243 355h1v1h-1zM245 355h2v1h-2zM248 355h1v1h-1zM250 355h1v1h-1zM252 355h2v1h-2zM255 355h1v1h-1zM257 355h2v1h-2zM260 355h1v1h-1zM262 355h1v1h-1zM264 355h2v1h-2zM267 355h1v1h-1zM269 355h2v1h-2zM272 355h1v1h-1zM274 355h1v1h-1zM276 355h2v1h-2zM279 355h1v1h-1zM281 355h2v1h-2zM284 355h1v1h-1zM286 355h1v1h-1zM288 355h2v1h-2zM291 355h1v1h-1zM293 355h2v1h-2zM296 355h1v1h-1zM298 355h1v1h-1zM300 355h2v1h-2zM303 355h1v1h-1zM305 355h2v1h-2zM308 355h1v1h-1zM310 355h1v1h-1zM312 355h2v1h-2zM315 355h1v1h-1zM317 355h2v1h-2zM320 355h1v1h-1zM322 355h1v1h-1zM324 355h2v1h-2zM327 355h1v1h-1zM329 355h2v1h-2zM332 355h1v1h-1zM334 355h1v1h-1zM336 355h2v1h-2zM339 355h1v1h-1zM341 355h2v1h-2zM344 355h1v1h-1zM346 355h1v1h-1zM348 355h2v1h-2zM351 355h1v1h-1zM353 355h2v1h-2zM356 355h1v1h-1zM358 355h1v1h-1zM360 355h2v1h-2zM363 355h1v1h-1zM365 355h2v1h-2zM368 355h1v1h-1zM370 355h1v1h-1zM372 355h2v1h-2zM375 355h1v1h-1zM377 355h2v1h-2zM380 355h1v1h-1zM382 355h1v1h-1zM384 355h2v1h-2zM387 355h1v1h-1zM389 355h2v1h-2zM392 355h1v1h-1zM394 355h1v1h-1zM396 355h2v1h-2zM399 355h1v1h-1zM401 355h2v1h-2zM404 355h1v1h-1zM406 355h1v1h-1zM408 355h2v1h-2zM411 355h1v1h-1zM413 355h2v1h-2zM416 355h1v1h-1zM418 355h1v1h-1zM420 355h2v1h-2zM423 355h1v1h-1zM425 355h2v1h-2zM428 355h1v1h-1zM430 355h1v1h-1zM432 355h2v1h-2zM435 355h1v1h-1zM437 355h2v1h-2zM440 355h1v1h-1zM442 355h1v1h-1zM444 355h2v1h-2zM447 355h1v1h-1zM449 355h2v1h-2zM452 355h1v1h-1zM454 355h1v1h-1zM456 355h2v1h-2zM459 355h1v1h-1zM461 355h2v1h-2zM464 355h1v1h-1zM466 355h1v1h-1zM468 355h2v1h-2zM471 355h1v1h-1zM473 355h2v1h-2zM476 355h1v1h-1zM478 355h1v1h-1zM480 355h2v1h-2zM483 355h1v1h-1zM485 355h2v1h-2zM488 355h1v1h-1zM490 355h1v1h-1zM492 355h2v1h-2zM495 355h1v1h-1zM497 355h2v1h-2zM500 355h1v1h-1zM502 355h1v1h-1zM504 355h2v1h-2zM507 355h1v1h-1zM509 355h2v1h-2zM512 355h1v1h-1zM514 355h1v1h-1zM516 355h2v1h-2zM519 355h1v1h-1zM521 355h2v1h-2zM524 355h1v1h-1zM526 355h1v1h-1zM528 355h2v1h-2zM531 355h1v1h-1zM533 355h2v1h-2zM536 355h1v1h-1zM538 355h1v1h-1zM540 355h2v1h-2zM543 355h1v1h-1zM545 355h2v1h-2zM548 355h1v1h-1zM550 355h1v1h-1zM552 355h2v1h-2zM555 355h1v1h-1zM557 355h2v1h-2zM560 355h1v1h-1zM562 355h1v1h-1zM564 355h2v1h-2zM567 355h1v1h-1zM569 355h2v1h-2zM572 355h1v1h-1zM574 355h1v1h-1zM576 355h2v1h-2zM579 355h1v1h-1zM581 355h2v1h-2zM584 355h1v1h-1zM586 355h1v1h-1zM588 355h2v1h-2zM591 355h1v1h-1zM593 355h2v1h-2zM596 355h1v1h-1zM598 355h1v1h-1zM600 355h2v1h-2zM603 355h1v1h-1zM605 355h2v1h-2zM608 355h1v1h-1zM610 355h1v1h-1zM612 355h2v1h-2zM615 355h1v1h-1zM617 355h2v1h-2zM620 355h1v1h-1zM622 355h1v1h-1zM624 355h2v1h-2zM627 355h1v1h-1zM629 355h2v1h-2zM632 355h1v1h-1zM634 355h1v1h-1zM636 355h2v1h-2zM639 355h1v1h-1zM641 355h2v1h-2zM644 355h1v1h-1zM646 355h1v1h-1zM648 355h2v1h-2zM651 355h1v1h-1zM653 355h2v1h-2zM656 355h1v1h-1zM658 355h1v1h-1zM660 355h2v1h-2zM663 355h1v1h-1zM665 355h2v1h-2zM668 355h1v1h-1zM670 355h1v1h-1zM672 355h2v1h-2zM675 355h1v1h-1zM677 355h2v1h-2zM680 355h1v1h-1zM682 355h1v1h-1zM684 355h2v1h-2zM687 355h1v1h-1zM689 355h2v1h-2zM692 355h1v1h-1zM694 355h1v1h-1zM696 355h2v1h-2zM699 355h1v1h-1zM701 355h2v1h-2zM704 355h1v1h-1zM706 355h1v1h-1zM708 355h2v1h-2zM711 355h1v1h-1zM713 355h2v1h-2zM716 355h1v1h-1zM718 355h1v1h-1zM720 355h2v1h-2zM723 355h1v1h-1zM725 355h2v1h-2zM728 355h1v1h-1zM730 355h1v1h-1zM732 355h2v1h-2zM735 355h1v1h-1zM737 355h2v1h-2zM740 355h1v1h-1zM742 355h1v1h-1zM744 355h2v1h-2zM747 355h1v1h-1zM749 355h2v1h-2zM752 355h1v1h-1zM754 355h1v1h-1zM756 355h2v1h-2zM759 355h1v1h-1zM761 355h2v1h-2zM764 355h1v1h-1zM766 355h1v1h-1zM768 355h2v1h-2zM771 355h1v1h-1zM773 355h2v1h-2zM776 355h1v1h-1zM778 355h1v1h-1zM780 355h2v1h-2zM783 355h1v1h-1zM785 355h2v1h-2zM788 355h1v1h-1zM790 355h1v1h-1zM792 355h2v1h-2zM795 355h1v1h-1zM797 355h2v1h-2zM800 355h1v1h-1zM802 355h1v1h-1zM804 355h2v1h-2zM807 355h1v1h-1zM809 355h2v1h-2zM812 355h1v1h-1zM814 355h1v1h-1zM816 355h2v1h-2zM819 355h1v1h-1zM821 355h2v1h-2zM824 355h1v1h-1zM826 355h1v1h-1zM828 355h2v1h-2zM831 355h1v1h-1zM833 355h2v1h-2zM836 355h1v1h-1zM838 355h1v1h-1zM840 355h2v1h-2zM843 355h1v1h-1zM845 355h2v1h-2zM848 355h1v1h-1zM850 355h1v1h-1zM852 355h2v1h-2zM855 355h1v1h-1zM857 355h2v1h-2zM860 355h1v1h-1zM862 355h1v1h-1zM864 355h2v1h-2zM867 355h1v1h-1zM869 355h2v1h-2zM872 355h1v1h-1zM874 355h1v1h-1zM876 355h2v1h-2zM879 355h1v1h-1zM881 355h2v1h-2zM884 355h1v1h-1zM886 355h1v1h-1zM888 355h2v1h-2zM891 355h1v1h-1zM893 355h2v1h-2zM896 355h1v1h-1zM898 355h1v1h-1zM900 355h2v1h-2zM903 355h1v1h-1zM905 355h2v1h-2zM908 355h1v1h-1zM910 355h1v1h-1zM912 355h2v1h-2zM915 355h1v1h-1zM917 355h2v1h-2zM920 355h1v1h-1zM922 355h1v1h-1zM924 355h2v1h-2zM927 355h1v1h-1zM929 355h2v1h-2zM932 355h1v1h-1zM934 355h1v1h-1zM936 355h2v1h-2zM939 355h1v1h-1zM941 355h2v1h-2zM944 355h1v1h-1zM946 355h1v1h-1zM948 355h2v1h-2zM951 355h1v1h-1zM953 355h2v1h-2zM956 355h1v1h-1zM958 355h1v1h-1zM960 355h2v1h-2zM963 355h1v1h-1zM965 355h2v1h-2zM968 355h1v1h-1zM970 355h1v1h-1zM972 355h2v1h-2zM975 355h1v1h-1zM977 355h2v1h-2zM980 355h1v1h-1zM982 355h1v1h-1zM984 355h2v1h-2zM987 355h1v1h-1zM989 355h2v1h-2zM992 355h1v1h-1zM994 355h1v1h-1zM996 355h2v1h-2zM999 355h1v1h-1zM1001 355h2v1h-2zM1004 355h1v1h-1zM1006 355h1v1h-1zM1008 355h2v1h-2zM1011 355h1v1h-1zM1013 355h2v1h-2zM1016 355h1v1h-1zM1018 355h1v1h-1zM1020 355h2v1h-2zM1023 355h1v1h-1zM1025 355h2v1h-2zM1028 355h1v1h-1zM1030 355h1v1h-1zM1032 355h2v1h-2zM1035 355h1v1h-1zM1037 355h2v1h-2zM1040 355h1v1h-1zM1042 355h1v1h-1zM1044 355h2v1h-2zM1047 355h1v1h-1zM1049 355h2v1h-2zM1052 355h1v1h-1zM1054 355h1v1h-1zM1056 355h2v1h-2zM1059 355h1v1h-1zM1061 355h2v1h-2zM1064 355h1v1h-1zM1066 355h1v1h-1zM1068 355h2v1h-2zM1071 355h1v1h-1zM1073 355h2v1h-2zM1076 355h1v1h-1zM1078 355h1v1h-1zM1080 355h2v1h-2zM1083 355h1v1h-1zM1085 355h2v1h-2zM1088 355h1v1h-1zM1090 355h1v1h-1zM1092 355h2v1h-2zM1095 355h1v1h-1zM1097 355h2v1h-2zM1100 355h1v1h-1zM1102 355h1v1h-1zM1104 355h2v1h-2zM1107 355h1v1h-1zM1109 355h2v1h-2zM1112 355h1v1h-1zM1114 355h1v1h-1zM1116 355h2v1h-2zM1119 355h1v1h-1zM1121 355h2v1h-2zM1124 355h1v1h-1zM1126 355h1v1h-1zM1128 355h2v1h-2zM1131 355h1v1h-1zM1133 355h2v1h-2zM1136 355h1v1h-1zM1138 355h1v1h-1zM1140 355h2v1h-2zM1143 355h1v1h-1zM1145 355h2v1h-2zM1148 355h1v1h-1zM1150 355h1v1h-1zM1152 355h2v1h-2zM1155 355h1v1h-1zM1157 355h2v1h-2zM1160 355h1v1h-1zM1162 355h1v1h-1zM1164 355h2v1h-2zM1167 355h1v1h-1zM1169 355h2v1h-2zM1172 355h1v1h-1zM1174 355h1v1h-1zM1176 355h2v1h-2zM1179 355h1v1h-1zM1181 355h2v1h-2zM1184 355h1v1h-1zM1186 355h1v1h-1zM1188 355h2v1h-2zM1191 355h1v1h-1zM1193 355h2v1h-2zM1196 355h1v1h-1zM1198 355h1v1h-1zM1200 355h2v1h-2zM1203 355h1v1h-1zM1205 355h2v1h-2zM1208 355h1v1h-1zM1210 355h1v1h-1zM1212 355h2v1h-2zM1215 355h1v1h-1zM1217 355h2v1h-2zM1220 355h1v1h-1zM1222 355h1v1h-1zM1224 355h2v1h-2zM1227 355h1v1h-1zM1229 355h2v1h-2zM1232 355h1v1h-1zM1234 355h1v1h-1zM1236 355h2v1h-2zM1239 355h1v1h-1zM1241 355h2v1h-2zM1244 355h1v1h-1zM1246 355h1v1h-1zM1248 355h2v1h-2zM1251 355h1v1h-1zM1253 355h2v1h-2zM1256 355h1v1h-1zM1258 355h1v1h-1zM1260 355h2v1h-2zM1263 355h1v1h-1zM1265 355h2v1h-2zM1268 355h1v1h-1zM1270 355h1v1h-1zM1272 355h2v1h-2zM1275 355h1v1h-1zM1277 355h2v1h-2zM1280 355h1v1h-1zM1282 355h1v1h-1zM1284 355h2v1h-2zM1287 355h1v1h-1zM1289 355h2v1h-2zM1292 355h1v1h-1zM1294 355h1v1h-1zM1296 355h2v1h-2zM1299 355h1v1h-1zM1301 355h2v1h-2zM1304 355h1v1h-1zM1306 355h1v1h-1zM1308 355h2v1h-2zM1311 355h1v1h-1zM1313 355h2v1h-2zM1316 355h1v1h-1zM1318 355h1v1h-1zM1320 355h2v1h-2zM1323 355h1v1h-1zM1325 355h2v1h-2zM1328 355h1v1h-1zM1330 355h1v1h-1zM1332 355h2v1h-2zM1335 355h1v1h-1zM1337 355h2v1h-2zM1340 355h1v1h-1zM1342 355h1v1h-1zM1344 355h2v1h-2zM1347 355h1v1h-1zM1349 355h2v1h-2zM1352 355h1v1h-1zM1354 355h1v1h-1zM1356 355h2v1h-2zM1359 355h1v1h-1zM1361 355h2v1h-2zM1364 355h1v1h-1zM1366 355h1v1h-1zM1368 355h2v1h-2zM1371 355h1v1h-1zM1373 355h2v1h-2zM1376 355h1v1h-1zM1378 355h1v1h-1zM1380 355h2v1h-2zM1383 355h1v1h-1zM1385 355h2v1h-2zM1388 355h1v1h-1zM1390 355h1v1h-1zM1392 355h2v1h-2zM1395 355h1v1h-1zM1397 355h2v1h-2zM1400 355h1v1h-1zM1402 355h1v1h-1zM1404 355h2v1h-2zM1407 355h1v1h-1zM1409 355h2v1h-2zM1412 355h1v1h-1zM1414 355h1v1h-1zM1416 355h2v1h-2zM1419 355h1v1h-1zM1421 355h2v1h-2zM1424 355h2v1h-2zM75 356h1v1h-1zM1425 356h1v1h-1zM75 357h1v1h-1zM1425 357h1v1h-1zM75 358h1v1h-1zM1425 358h1v1h-1zM75 359h1v1h-1zM1425 359h1v1h-1zM75 360h1v1h-1zM121 360h1v1h-1zM329 360h1v1h-1zM537 360h1v1h-1zM744 360h1v1h-1zM952 360h1v1h-1zM1160 360h1v1h-1zM1367 360h1v1h-1zM1425 360h1v1h-1zM75 361h15v1h-15zM121 361h1v1h-1zM329 361h1v1h-1zM537 361h1v1h-1zM744 361h1v1h-1zM952 361h1v1h-1zM1160 361h1v1h-1zM1367 361h1v1h-1zM1425 361h1v1h-1zM75 362h1v1h-1zM121 362h1v1h-1zM329 362h1v1h-1zM537 362h1v1h-1zM744 362h1v1h-1zM952 362h1v1h-1zM1160 362h1v1h-1zM1367 362h1v1h-1zM1425 362h1v1h-1zM75 363h1v1h-1zM121 363h1v1h-1zM329 363h1v1h-1zM537 363h1v1h-1zM744 363h1v1h-1zM952 363h1v1h-1zM1160 363h1v1h-1zM1367 363h1v1h-1zM1425 363h1v1h-1zM75 364h1v1h-1zM87 364h1v1h-1zM121 364h1v1h-1zM156 364h1v1h-1zM190 364h1v1h-1zM225 364h1v1h-1zM260 364h1v1h-1zM294 364h1v1h-1zM329 364h1v1h-1zM364 364h1v1h-1zM398 364h1v1h-1zM433 364h1v1h-1zM467 364h1v1h-1zM502 364h1v1h-1zM537 364h1v1h-1zM571 364h1v1h-1zM606 364h1v1h-1zM640 364h1v1h-1zM675 364h1v1h-1zM710 364h1v1h-1zM744 364h1v1h-1zM779 364h1v1h-1zM813 364h1v1h-1zM848 364h1v1h-1zM883 364h1v1h-1zM917 364h1v1h-1zM952 364h1v1h-1zM987 364h1v1h-1zM1021 364h1v1h-1zM1056 364h1v1h-1zM1090 364h1v1h-1zM1125 364h1v1h-1zM1160 364h1v1h-1zM1194 364h1v1h-1zM1229 364h1v1h-1zM1263 364h1v1h-1zM1298 364h1v1h-1zM1333 364h1v1h-1zM1367 364h1v1h-1zM1402 364h1v1h-1zM1425 364h1v1h-1zM75 365h1v1h-1zM87 365h1v1h-1zM121 365h1v1h-1zM156 365h1v1h-1zM190 365h1v1h-1zM225 365h1v1h-1zM260 365h1v1h-1zM294 365h1v1h-1zM329 365h1v1h-1zM364 365h1v1h-1zM398 365h1v1h-1zM433 365h1v1h-1zM467 365h1v1h-1zM502 365h1v1h-1zM537 365h1v1h-1zM571 365h1v1h-1zM606 365h1v1h-1zM640 365h1v1h-1zM675 365h1v1h-1zM710 365h1v1h-1zM744 365h1v1h-1zM779 365h1v1h-1zM813 365h1v1h-1zM848 365h1v1h-1zM883 365h1v1h-1zM917 365h1v1h-1zM952 365h1v1h-1zM987 365h1v1h-1zM1021 365h1v1h-1zM1056 365h1v1h-1zM1090 365h1v1h-1zM1125 365h1v1h-1zM1160 365h1v1h-1zM1194 365h1v1h-1zM1229 365h1v1h-1zM1263 365h1v1h-1zM1298 365h1v1h-1zM1333 365h1v1h-1zM1367 365h1v1h-1zM1402 365h1v1h-1zM1425 365h1v1h-1zM75 366h1v1h-1zM87 366h1v1h-1zM121 366h1v1h-1zM156 366h1v1h-1zM190 366h1v1h-1zM225 366h1v1h-1zM260 366h1v1h-1zM294 366h1v1h-1zM329 366h1v1h-1zM364 366h1v1h-1zM398 366h1v1h-1zM433 366h1v1h-1zM467 366h1v1h-1zM502 366h1v1h-1zM537 366h1v1h-1zM571 366h1v1h-1zM606 366h1v1h-1zM640 366h1v1h-1zM675 366h1v1h-1zM710 366h1v1h-1zM744 366h1v1h-1zM779 366h1v1h-1zM813 366h1v1h-1zM848 366h1v1h-1zM883 366h1v1h-1zM917 366h1v1h-1zM952 366h1v1h-1zM987 366h1v1h-1zM1021 366h1v1h-1zM1056 366h1v1h-1zM1090 366h1v1h-1zM1125 366h1v1h-1zM1160 366h1v1h-1zM1194 366h1v1h-1zM1229 366h1v1h-1zM1263 366h1v1h-1zM1298 366h1v1h-1zM1333 366h1v1h-1zM1367 366h1v1h-1zM1402 366h1v1h-1zM1425 366h1v1h-1zM75 367h1v1h-1zM87 367h1v1h-1zM121 367h1v1h-1zM156 367h1v1h-1zM190 367h1v1h-1zM225 367h1v1h-1zM260 367h1v1h-1zM294 367h1v1h-1zM329 367h1v1h-1zM364 367h1v1h-1zM398 367h1v1h-1zM433 367h1v1h-1zM467 367h1v1h-1zM502 367h1v1h-1zM537 367h1v1h-1zM571 367h1v1h-1zM606 367h1v1h-1zM640 367h1v1h-1zM675 367h1v1h-1zM710 367h1v1h-1zM744 367h1v1h-1zM779 367h1v1h-1zM813 367h1v1h-1zM848 367h1v1h-1zM883 367h1v1h-1zM917 367h1v1h-1zM952 367h1v1h-1zM987 367h1v1h-1zM1021 367h1v1h-1zM1056 367h1v1h-1zM1090 367h1v1h-1zM1125 367h1v1h-1zM1160 367h1v1h-1zM1194 367h1v1h-1zM1229 367h1v1h-1zM1263 367h1v1h-1zM1298 367h1v1h-1zM1333 367h1v1h-1zM1367 367h1v1h-1zM1402 367h1v1h-1zM1425 367h1v1h-1zM75 368h1v1h-1zM87 368h1v1h-1zM121 368h1v1h-1zM156 368h1v1h-1zM190 368h1v1h-1zM225 368h1v1h-1zM260 368h1v1h-1zM294 368h1v1h-1zM329 368h1v1h-1zM364 368h1v1h-1zM398 368h1v1h-1zM433 368h1v1h-1zM467 368h1v1h-1zM502 368h1v1h-1zM537 368h1v1h-1zM571 368h1v1h-1zM606 368h1v1h-1zM640 368h1v1h-1zM675 368h1v1h-1zM710 368h1v1h-1zM744 368h1v1h-1zM779 368h1v1h-1zM813 368h1v1h-1zM848 368h1v1h-1zM883 368h1v1h-1zM917 368h1v1h-1zM952 368h1v1h-1zM987 368h1v1h-1zM1021 368h1v1h-1zM1056 368h1v1h-1zM1090 368h1v1h-1zM1125 368h1v1h-1zM1160 368h1v1h-1zM1194 368h1v1h-1zM1229 368h1v1h-1zM1263 368h1v1h-1zM1298 368h1v1h-1zM1333 368h1v1h-1zM1367 368h1v1h-1zM1402 368h1v1h-1zM1425 368h1v1h-1zM75 369h1351v1h-1351z"/>
<path fill="#ff00ff" d="M1412 10h14v1h-14zM1425 11h1v1h-1zM1425 12h1v1h-1zM1425 13h1v1h-1zM1425 14h1v1h-1zM1425 15h1v1h-1zM1412 16h14v1h-14zM1425 17h1v1h-1zM1425 18h1v1h-1zM1425 19h1v1h-1zM1425 20h1v1h-1zM1425 21h1v1h-1zM1425 22h1v1h-1zM1412 23h14v1h-14zM1425 24h1v1h-1zM1420 25h1v1h-1zM1422 25h1v1h-1zM1424 25h2v1h-2zM1400 26h1v1h-1zM1402 26h2v1h-2zM1405 26h1v1h-1zM1407 26h2v1h-2zM1410 26h1v1h-1zM1412 26h1v1h-1zM1414 26h2v1h-2zM1417 26h1v1h-1zM1419 26h7v1h-7zM1381 27h1v1h-1zM1383 27h2v1h-2zM1386 27h1v1h-1zM1388 27h1v1h-1zM1390 27h2v1h-2zM1393 27h1v1h-1zM1395 27h2v1h-2zM1398 27h1v1h-1zM1400 27h26v1h-26zM1360 28h1v1h-1zM1362 28h1v1h-1zM1364 28h1v1h-1zM1366 28h2v1h-2zM1369 28h1v1h-1zM1371 28h2v1h-2zM1374 28h1v1h-1zM1376 28h1v1h-1zM1378 28h28v1h-28zM1407 28h2v1h-2zM1410 28h1v1h-1zM1412 28h1v1h-1zM1414 28h2v1h-2zM1417 28h1v1h-1zM1419 28h2v1h-2zM1422 28h1v1h-1zM1424 28h2v1h-2zM1340 29h1v1h-1zM1342 29h2v1h-2zM1345 29h1v1h-1zM1347 29h2v1h-2zM1350 29h1v1h-1zM1352 29h1v1h-1zM1354 29h2v1h-2zM1357 29h1v1h-1zM1359 29h26v1h-26zM1386 29h1v1h-1zM1388 29h1v1h-1zM1390 29h2v1h-2zM1393 29h1v1h-1zM1395 29h2v1h-2zM1398 29h28v1h-28zM1319 30h1v1h-1zM1321 30h1v1h-1zM1323 30h2v1h-2zM1326 30h1v1h-1zM1328 30h1v1h-1zM1330 30h2v1h-2zM1333 30h1v1h-1zM1335 30h2v1h-2zM1338 30h1v1h-1zM1340 30h25v1h-25zM1366 30h2v1h-2zM1369 30h1v1h-1zM1371 30h2v1h-2zM1374 30h1v1h-1zM1376 30h1v1h-1zM1378 30h2v1h-2zM1381 30h1v1h-1zM1383 30h2v1h-2zM1425 30h1v1h-1zM1299 31h2v1h-2zM1302 31h1v1h-1zM1304 31h1v1h-1zM1306 31h2v1h-2zM1309 31h1v1h-1zM1311 31h2v1h-2zM1314 31h1v1h-1zM1316 31h1v1h-1zM1318 31h28v1h-28zM1347 31h2v1h-2zM1350 31h1v1h-1zM1352 31h1v1h-1zM1354 31h2v1h-2zM1357 31h1v1h-1zM1359 31h2v1h-2zM1362 31h1v1h-1zM1364 31h1v1h-1zM1425 31h1v1h-1zM1287 32h2v1h-2zM1290 32h1v1h-1zM1292 32h1v1h-1zM1294 32h2v1h-2zM1297 32h1v1h-1zM1299 32h26v1h-26zM1326 32h1v1h-1zM1328 32h1v1h-1zM1330 32h2v1h-2zM1333 32h1v1h-1zM1335 32h2v1h-2zM1338 32h1v1h-1zM1340 32h1v1h-1zM1342 32h2v1h-2zM1425 32h1v1h-1zM1275 33h2v1h-2zM1278 33h1v1h-1zM1280 33h1v1h-1zM1282 33h2v1h-2zM1285 33h1v1h-1zM1287 33h18v1h-18zM1306 33h2v1h-2zM1309 33h1v1h-1zM1311 33h2v1h-2zM1314 33h1v1h-1zM1316 33h1v1h-1zM1318 33h2v1h-2zM1321 33h1v1h-1zM1323 33h1v1h-1zM1425 33h1v1h-1zM1263 34h2v1h-2zM1266 34h1v1h-1zM1268 34h1v1h-1zM1270 34h2v1h-2zM1273 34h1v1h-1zM1275 34h16v1h-16zM1292 34h1v1h-1zM1294 34h2v1h-2zM1297 34h1v1h-1zM1299 34h2v1h-2zM1302 34h1v1h-1zM1425 34h1v1h-1zM1251 35h2v1h-2zM1254 35h1v1h-1zM1256 35h1v1h-1zM1258 35h2v1h-2zM1261 35h1v1h-1zM1263 35h16v1h-16zM1280 35h1v1h-1zM1282 35h2v1h-2zM1285 35h1v1h-1zM1287 35h2v1h-2zM1290 35h1v1h-1zM1425 35h1v1h-1zM1239 36h2v1h-2zM1242 36h1v1h-1zM1244 36h1v1h-1zM1246 36h2v1h-2zM1249 36h1v1h-1zM1251 36h16v1h-16zM1268 36h1v1h-1zM1270 36h2v1h-2zM1273 36h1v1h-1zM1275 36h2v1h-2zM1278 36h1v1h-1zM1412 36h14v1h-14zM1227 37h2v1h-2zM1230 37h1v1h-1zM1232 37h1v1h-1zM1234 37h2v1h-2zM1237 37h1v1h-1zM1239 37h16v1h-16zM1256 37h1v1h-1zM1258 37h2v1h-2zM1261 37h1v1h-1zM1263 37h2v1h-2zM1266 37h1v1h-1zM1425 37h1v1h-1zM1215 38h2v1h-2zM1218 38h1v1h-1zM1220 38h1v1h-1zM1222 38h2v1h-2zM1225 38h1v1h-1zM1227 38h16v1h-16zM1244 38h1v1h-1zM1246 38h2v1h-2zM1249 38h1v1h-1zM1251 38h2v1h-2zM1425 38h1v1h-1zM1203 39h2v1h-2zM1206 39h1v1h-1zM1208 39h1v1h-1zM1210 39h2v1h-2zM1213 39h1v1h-1zM1215 39h16v1h-16zM1232 39h1v1h-1zM1234 39h2v1h-2zM1237 39h1v1h-1zM1239 39h2v1h-2zM1425 39h1v1h-1zM1191 40h2v1h-2zM1194 40h1v1h-1zM1196 40h1v1h-1zM1198 40h2v1h-2zM1201 40h1v1h-1zM1203 40h16v1h-16zM1220 40h1v1h-1zM1222 40h2v1h-2zM1225 40h1v1h-1zM1227 40h2v1h-2zM1425 40h1v1h-1zM1179 41h2v1h-2zM1182 41h1v1h-1zM1184 41h1v1h-1zM1186 41h2v1h-2zM1189 41h18v1h-18zM1208 41h1v1h-1zM1210 41h2v1h-2zM1213 41h1v1h-1zM1215 41h2v1h-2zM1425 41h1v1h-1zM1168 42h1v1h-1zM1170 42h1v1h-1zM1172 42h1v1h-1zM1174 42h2v1h-2zM1177 42h18v1h-18zM1196 42h1v1h-1zM1198 42h2v1h-2zM1201 42h1v1h-1zM1203 42h2v1h-2zM1425 42h1v1h-1zM1158 43h1v1h-1zM1160 43h1v1h-1zM1162 43h2v1h-2zM1165 43h1v1h-1zM1167 43h16v1h-16zM1184 43h1v1h-1zM1186 43h2v1h-2zM1189 43h1v1h-1zM1191 43h2v1h-2zM1412 43h14v1h-14zM1150 44h2v1h-2zM1153 44h1v1h-1zM1155 44h2v1h-2zM1158 44h13v1h-13zM1172 44h1v1h-1zM1174 44h2v1h-2zM1177 44h1v1h-1zM1179 44h2v1h-2zM1425 44h1v1h-1zM1139 45h1v1h-1zM1141 45h1v1h-1zM1143 45h2v1h-2zM1146 45h1v1h-1zM1148 45h13v1h-13zM1162 45h2v1h-2zM1165 45h1v1h-1zM1167 45h2v1h-2zM1170 45h1v1h-1zM1425 45h1v1h-1zM1131 46h2v1h-2zM1134 46h1v1h-1zM1136 46h1v1h-1zM1138 46h14v1h-14zM1153 46h1v1h-1zM1155 46h2v1h-2zM1158 46h1v1h-1zM1160 46h1v1h-1zM1425 46h1v1h-1zM1120 47h1v1h-1zM1122 47h1v1h-1zM1124 47h1v1h-1zM1126 47h2v1h-2zM1129 47h13v1h-13zM1143 47h2v1h-2zM1146 47h1v1h-1zM1148 47h1v1h-1zM1150 47h2v1h-2zM1425 47h1v1h-1zM1112 48h1v1h-1zM1114 48h2v1h-2zM1117 48h1v1h-1zM1119 48h14v1h-14zM1134 48h1v1h-1zM1136 48h1v1h-1zM1138 48h2v1h-2zM1141 48h1v1h-1zM1425 48h1v1h-1zM1102 49h2v1h-2zM1105 49h1v1h-1zM1107 49h2v1h-2zM1110 49h13v1h-13zM1124 49h1v1h-1zM1126 49h2v1h-2zM1129 49h1v1h-1zM1131 49h2v1h-2zM1412 49h14v1h-14zM1093 50h1v1h-1zM1095 50h2v1h-2zM1098 50h1v1h-1zM1100 50h16v1h-16zM1117 50h1v1h-1zM1119 50h2v1h-2zM1122 50h1v1h-1zM1425 50h1v1h-1zM1083 51h2v1h-2zM1086 51h1v1h-1zM1088 51h1v1h-1zM1090 51h14v1h-14zM1105 51h1v1h-1zM1107 51h2v1h-2zM1110 51h1v1h-1zM1112 51h1v1h-1zM1425 51h1v1h-1zM1074 52h1v1h-1zM1076 52h1v1h-1zM1078 52h2v1h-2zM1081 52h16v1h-16zM1098 52h1v1h-1zM1100 52h1v1h-1zM1102 52h2v1h-2zM1425 52h1v1h-1zM1064 53h1v1h-1zM1066 53h2v1h-2zM1069 53h1v1h-1zM1071 53h14v1h-14zM1086 53h1v1h-1zM1088 53h1v1h-1zM1090 53h2v1h-2zM1093 53h1v1h-1zM1425 53h1v1h-1zM1054 54h2v1h-2zM1057 54h1v1h-1zM1059 54h2v1h-2zM1062 54h15v1h-15zM1078 54h2v1h-2zM1081 54h1v1h-1zM1083 54h2v1h-2zM1425 54h1v1h-1zM1045 55h1v1h-1zM1047 55h2v1h-2zM1050 55h1v1h-1zM1052 55h1v1h-1zM1054 55h14v1h-14zM1069 55h1v1h-1zM1071 55h2v1h-2zM1074 55h1v1h-1zM1425 55h1v1h-1zM1040 56h1v1h-1zM1042 56h2v1h-2zM1045 56h11v1h-11zM1057 56h1v1h-1zM1059 56h2v1h-2zM1062 56h1v1h-1zM1064 56h1v1h-1zM1412 56h14v1h-14zM1033 57h1v1h-1zM1035 57h2v1h-2zM1038 57h11v1h-11zM1050 57h1v1h-1zM1052 57h1v1h-1zM1054 57h2v1h-2zM1425 57h1v1h-1zM1026 58h1v1h-1zM1028 58h1v1h-1zM1030 58h11v1h-11zM1042 58h2v1h-2zM1045 58h1v1h-1zM1425 58h1v1h-1zM1019 59h1v1h-1zM1021 59h1v1h-1zM1023 59h11v1h-11zM1035 59h2v1h-2zM1038 59h1v1h-1zM1040 59h1v1h-1zM1425 59h1v1h-1zM1012 60h1v1h-1zM1014 60h1v1h-1zM1016 60h1v1h-1zM1018 60h9v1h-9zM1028 60h1v1h-1zM1030 60h2v1h-2zM1033 60h1v1h-1zM1425 60h1v1h-1zM1006 61h2v1h-2zM1009 61h1v1h-1zM1011 61h11v1h-11zM1023 61h2v1h-2zM1026 61h1v1h-1zM1425 61h1v1h-1zM999 62h2v1h-2zM1002 62h1v1h-1zM1004 62h1v1h-1zM1006 62h9v1h-9zM1016 62h1v1h-1zM1018 62h2v1h-2zM1398 62h28v1h-28zM992 63h1v1h-1zM994 63h2v1h-2zM997 63h1v1h-1zM999 63h9v1h-9zM1009 63h1v1h-1zM1011 63h2v1h-2zM1425 63h1v1h-1zM987 64h2v1h-2zM990 64h1v1h-1zM992 64h9v1h-9zM1002 64h1v1h-1zM1004 64h1v1h-1zM1006 64h1v1h-1zM1425 64h1v1h-1zM980 65h1v1h-1zM982 65h2v1h-2zM985 65h11v1h-11zM997 65h1v1h-1zM999 65h2v1h-2zM1425 65h1v1h-1zM973 66h1v1h-1zM975 66h2v1h-2zM978 66h11v1h-11zM990 66h1v1h-1zM992 66h1v1h-1zM1425 66h1v1h-1zM966 67h1v1h-1zM968 67h1v1h-1zM970 67h11v1h-11zM982 67h2v1h-2zM985 67h1v1h-1zM987 67h1v1h-1zM1425 67h1v1h-1zM959 68h1v1h-1zM961 68h1v1h-1zM963 68h2v1h-2zM966 68h8v1h-8zM975 68h2v1h-2zM978 68h1v1h-1zM980 68h1v1h-1zM1425 68h1v1h-1zM952 69h1v1h-1zM954 69h1v1h-1zM956 69h1v1h-1zM958 69h11v1h-11zM970 69h2v1h-2zM973 69h1v1h-1zM1412 69h14v1h-14zM946 70h2v1h-2zM949 70h1v1h-1zM951 70h11v1h-11zM963 70h2v1h-2zM966 70h1v1h-1zM1425 70h1v1h-1zM939 71h2v1h-2zM942 71h1v1h-1zM944 71h1v1h-1zM946 71h9v1h-9zM956 71h1v1h-1zM958 71h2v1h-2zM1425 71h1v1h-1zM932 72h1v1h-1zM934 72h2v1h-2zM937 72h1v1h-1zM939 72h9v1h-9zM949 72h1v1h-1zM951 72h2v1h-2zM1425 72h1v1h-1zM927 73h2v1h-2zM930 73h1v1h-1zM932 73h9v1h-9zM942 73h1v1h-1zM944 73h1v1h-1zM946 73h2v1h-2zM1425 73h1v1h-1zM920 74h1v1h-1zM922 74h2v1h-2zM925 74h11v1h-11zM937 74h1v1h-1zM939 74h2v1h-2zM1425 74h1v1h-1zM915 75h2v1h-2zM918 75h1v1h-1zM920 75h9v1h-9zM930 75h1v1h-1zM932 75h1v1h-1zM1412 75h14v1h-14zM910 76h2v1h-2zM913 76h1v1h-1zM915 76h6v1h-6zM922 76h2v1h-2zM925 76h1v1h-1zM927 76h1v1h-1zM1425 76h1v1h-1zM904 77h1v1h-1zM906 77h1v1h-1zM908 77h9v1h-9zM918 77h1v1h-1zM920 77h1v1h-1zM1425 77h1v1h-1zM899 78h1v1h-1zM901 78h1v1h-1zM903 78h9v1h-9zM913 78h1v1h-1zM915 78h1v1h-1zM1425 78h1v1h-1zM894 79h1v1h-1zM896 79h1v1h-1zM898 79h9v1h-9zM908 79h1v1h-1zM910 79h1v1h-1zM1425 79h1v1h-1zM889 80h1v1h-1zM891 80h2v1h-2zM894 80h6v1h-6zM901 80h1v1h-1zM903 80h2v1h-2zM1425 80h1v1h-1zM884 81h1v1h-1zM886 81h9v1h-9zM896 81h1v1h-1zM898 81h2v1h-2zM1425 81h1v1h-1zM879 82h2v1h-2zM882 82h8v1h-8zM891 82h2v1h-2zM894 82h1v1h-1zM1412 82h14v1h-14zM874 83h2v1h-2zM877 83h8v1h-8zM886 83h2v1h-2zM889 83h1v1h-1zM1425 83h1v1h-1zM867 84h2v1h-2zM870 84h1v1h-1zM872 84h9v1h-9zM882 84h1v1h-1zM884 84h1v1h-1zM1425 84h1v1h-1zM862 85h2v1h-2zM865 85h1v1h-1zM867 85h9v1h-9zM877 85h1v1h-1zM1425 85h1v1h-1zM858 86h1v1h-1zM860 86h1v1h-1zM862 86h7v1h-7zM870 86h1v1h-1zM872 86h1v1h-1zM1425 86h1v1h-1zM853 87h1v1h-1zM855 87h9v1h-9zM865 87h1v1h-1zM867 87h2v1h-2zM1425 87h1v1h-1zM846 88h1v1h-1zM848 88h1v1h-1zM850 88h9v1h-9zM860 88h1v1h-1zM862 88h2v1h-2zM1412 88h14v1h-14zM841 89h1v1h-1zM843 89h2v1h-2zM846 89h8v1h-8zM855 89h2v1h-2zM858 89h1v1h-1zM1425 89h1v1h-1zM836 90h1v1h-1zM838 90h2v1h-2zM841 90h8v1h-8zM850 90h2v1h-2zM1425 90h1v1h-1zM831 91h2v1h-2zM834 91h1v1h-1zM836 91h9v1h-9zM846 91h1v1h-1zM1425 91h1v1h-1zM826 92h2v1h-2zM829 92h1v1h-1zM831 92h9v1h-9zM841 92h1v1h-1zM1425 92h1v1h-1zM820 93h1v1h-1zM822 93h1v1h-1zM824 93h1v1h-1zM826 93h7v1h-7zM834 93h1v1h-1zM836 93h1v1h-1zM1425 93h1v1h-1zM815 94h1v1h-1zM817 94h1v1h-1zM819 94h9v1h-9zM829 94h1v1h-1zM831 94h1v1h-1zM1425 94h1v1h-1zM810 95h1v1h-1zM812 95h1v1h-1zM814 95h9v1h-9zM824 95h1v1h-1zM826 95h1v1h-1zM1398 95h28v1h-28zM805 96h1v1h-1zM807 96h2v1h-2zM810 96h8v1h-8zM819 96h2v1h-2zM1425 96h1v1h-1zM800 97h1v1h-1zM802 97h2v1h-2zM805 97h6v1h-6zM812 97h1v1h-1zM814 97h2v1h-2zM1425 97h1v1h-1zM795 98h2v1h-2zM798 98h8v1h-8zM807 98h2v1h-2zM810 98h1v1h-1zM1425 98h1v1h-1zM788 99h1v1h-1zM790 99h2v1h-2zM793 99h8v1h-8zM802 99h2v1h-2zM805 99h1v1h-1zM1425 99h1v1h-1zM783 100h2v1h-2zM786 100h1v1h-1zM788 100h9v1h-9zM798 100h1v1h-1zM800 100h1v1h-1zM1425 100h1v1h-1zM778 101h2v1h-2zM781 101h1v1h-1zM783 101h9v1h-9zM793 101h1v1h-1zM795 101h1v1h-1zM1412 101h14v1h-14zM772 102h1v1h-1zM774 102h1v1h-1zM776 102h9v1h-9zM786 102h1v1h-1zM788 102h1v1h-1zM1425 102h1v1h-1zM766 103h2v1h-2zM769 103h1v1h-1zM771 103h9v1h-9zM781 103h1v1h-1zM783 103h2v1h-2zM1425 103h1v1h-1zM762 104h1v1h-1zM764 104h1v1h-1zM766 104h7v1h-7zM774 104h1v1h-1zM776 104h1v1h-1zM778 104h1v1h-1zM1425 104h1v1h-1zM755 105h1v1h-1zM757 105h1v1h-1zM759 105h9v1h-9zM769 105h1v1h-1zM771 105h2v1h-2zM1425 105h1v1h-1zM750 106h1v1h-1zM752 106h1v1h-1zM754 106h9v1h-9zM764 106h1v1h-1zM766 106h2v1h-2zM1425 106h1v1h-1zM745 107h1v1h-1zM747 107h2v1h-2zM750 107h8v1h-8zM759 107h2v1h-2zM1425 107h1v1h-1zM740 108h1v1h-1zM742 108h9v1h-9zM752 108h1v1h-1zM754 108h2v1h-2zM1412 108h14v1h-14zM733 109h1v1h-1zM735 109h2v1h-2zM738 109h8v1h-8zM747 109h2v1h-2zM750 109h1v1h-1zM1425 109h1v1h-1zM728 110h1v1h-1zM730 110h2v1h-2zM733 110h8v1h-8zM742 110h2v1h-2zM745 110h1v1h-1zM1425 110h1v1h-1zM723 111h2v1h-2zM726 111h1v1h-1zM728 111h9v1h-9zM738 111h1v1h-1zM1425 111h1v1h-1zM716 112h1v1h-1zM718 112h2v1h-2zM721 112h8v1h-8zM730 112h2v1h-2zM733 112h1v1h-1zM1425 112h1v1h-1zM711 113h2v1h-2zM714 113h1v1h-1zM716 113h9v1h-9zM726 113h1v1h-1zM728 113h1v1h-1zM1425 113h1v1h-1zM706 114h2v1h-2zM709 114h1v1h-1zM711 114h9v1h-9zM721 114h1v1h-1zM723 114h1v1h-1zM1425 114h1v1h-1zM700 115h1v1h-1zM702 115h1v1h-1zM704 115h9v1h-9zM714 115h1v1h-1zM716 115h1v1h-1zM1412 115h14v1h-14zM694 116h2v1h-2zM697 116h1v1h-1zM699 116h9v1h-9zM709 116h1v1h-1zM711 116h2v1h-2zM1425 116h1v1h-1zM690 117h1v1h-1zM692 117h1v1h-1zM694 117h7v1h-7zM702 117h1v1h-1zM704 117h1v1h-1zM706 117h1v1h-1zM1425 117h1v1h-1zM683 118h1v1h-1zM685 118h1v1h-1zM687 118h9v1h-9zM697 118h1v1h-1zM699 118h2v1h-2zM1425 118h1v1h-1zM678 119h1v1h-1zM680 119h1v1h-1zM682 119h9v1h-9zM692 119h1v1h-1zM694 119h2v1h-2zM1425 119h1v1h-1zM673 120h1v1h-1zM675 120h2v1h-2zM678 120h8v1h-8zM687 120h2v1h-2zM1425 120h1v1h-1zM666 121h1v1h-1zM668 121h1v1h-1zM670 121h9v1h-9zM680 121h1v1h-1zM682 121h2v1h-2zM1412 121h14v1h-14zM658 122h2v1h-2zM661 122h1v1h-1zM663 122h11v1h-11zM675 122h2v1h-2zM678 122h1v1h-1zM1425 122h1v1h-1zM649 123h1v1h-1zM651 123h2v1h-2zM654 123h1v1h-1zM656 123h11v1h-11zM668 123h1v1h-1zM670 123h2v1h-2zM673 123h1v1h-1zM1425 123h1v1h-1zM642 124h1v1h-1zM644 124h1v1h-1zM646 124h2v1h-2zM649 124h11v1h-11zM661 124h1v1h-1zM663 124h2v1h-2zM666 124h1v1h-1zM1425 124h1v1h-1zM634 125h2v1h-2zM637 125h1v1h-1zM639 125h14v1h-14zM654 125h1v1h-1zM656 125h1v1h-1zM658 125h1v1h-1zM1425 125h1v1h-1zM625 126h1v1h-1zM627 126h2v1h-2zM630 126h1v1h-1zM632 126h11v1h-11zM644 126h1v1h-1zM646 126h2v1h-2zM649 126h1v1h-1zM1425 126h1v1h-1zM618 127h1v1h-1zM620 127h1v1h-1zM622 127h2v1h-2zM625 127h11v1h-11zM637 127h1v1h-1zM639 127h2v1h-2zM642 127h1v1h-1zM1425 127h1v1h-1zM610 128h2v1h-2zM613 128h1v1h-1zM615 128h14v1h-14zM630 128h1v1h-1zM632 128h1v1h-1zM634 128h2v1h-2zM1398 128h28v1h-28zM603 129h2v1h-2zM606 129h1v1h-1zM608 129h1v1h-1zM610 129h11v1h-11zM622 129h2v1h-2zM625 129h1v1h-1zM627 129h1v1h-1zM1425 129h1v1h-1zM594 130h1v1h-1zM596 130h1v1h-1zM598 130h2v1h-2zM601 130h11v1h-11zM613 130h1v1h-1zM615 130h2v1h-2zM618 130h1v1h-1zM1425 130h1v1h-1zM586 131h2v1h-2zM589 131h1v1h-1zM591 131h2v1h-2zM594 131h11v1h-11zM606 131h1v1h-1zM608 131h1v1h-1zM610 131h2v1h-2zM1425 131h1v1h-1zM579 132h2v1h-2zM582 132h1v1h-1zM584 132h1v1h-1zM586 132h11v1h-11zM598 132h2v1h-2zM601 132h1v1h-1zM603 132h1v1h-1zM1425 132h1v1h-1zM570 133h1v1h-1zM572 133h1v1h-1zM574 133h2v1h-2zM577 133h11v1h-11zM589 133h1v1h-1zM591 133h2v1h-2zM594 133h1v1h-1zM1425 133h1v1h-1zM562 134h2v1h-2zM565 134h1v1h-1zM567 134h2v1h-2zM570 134h11v1h-11zM582 134h1v1h-1zM584 134h1v1h-1zM586 134h2v1h-2zM1412 134h14v1h-14zM555 135h2v1h-2zM558 135h1v1h-1zM560 135h1v1h-1zM562 135h11v1h-11zM574 135h2v1h-2zM577 135h1v1h-1zM579 135h2v1h-2zM1425 135h1v1h-1zM548 136h1v1h-1zM550 136h2v1h-2zM553 136h1v1h-1zM555 136h11v1h-11zM567 136h2v1h-2zM570 136h1v1h-1zM572 136h1v1h-1zM1425 136h1v1h-1zM538 137h2v1h-2zM541 137h1v1h-1zM543 137h2v1h-2zM546 137h11v1h-11zM558 137h1v1h-1zM560 137h1v1h-1zM562 137h2v1h-2zM1425 137h1v1h-1zM527 138h1v1h-1zM529 138h1v1h-1zM531 138h2v1h-2zM534 138h1v1h-1zM536 138h13v1h-13zM550 138h2v1h-2zM553 138h1v1h-1zM555 138h2v1h-2zM1425 138h1v1h-1zM517 139h1v1h-1zM519 139h2v1h-2zM522 139h1v1h-1zM524 139h1v1h-1zM526 139h14v1h-14zM541 139h1v1h-1zM543 139h2v1h-2zM546 139h1v1h-1zM548 139h1v1h-1zM1425 139h1v1h-1zM507 140h2v1h-2zM510 140h1v1h-1zM512 140h1v1h-1zM514 140h2v1h-2zM517 140h13v1h-13zM531 140h2v1h-2zM534 140h1v1h-1zM536 140h1v1h-1zM538 140h2v1h-2zM1425 140h1v1h-1zM498 141h1v1h-1zM500 141h1v1h-1zM502 141h2v1h-2zM505 141h1v1h-1zM507 141h14v1h-14zM522 141h1v1h-1zM524 141h1v1h-1zM526 141h2v1h-2zM529 141h1v1h-1zM1412 141h14v1h-14zM488 142h1v1h-1zM490 142h2v1h-2zM493 142h1v1h-1zM495 142h16v1h-16zM512 142h1v1h-1zM514 142h2v1h-2zM517 142h1v1h-1zM519 142h1v1h-1zM1425 142h1v1h-1zM478 143h2v1h-2zM481 143h1v1h-1zM483 143h2v1h-2zM486 143h15v1h-15zM502 143h2v1h-2zM505 143h1v1h-1zM507 143h2v1h-2zM1425 143h1v1h-1zM467 144h1v1h-1zM469 144h1v1h-1zM471 144h2v1h-2zM474 144h1v1h-1zM476 144h16v1h-16zM493 144h1v1h-1zM495 144h2v1h-2zM498 144h1v1h-1zM1425 144h1v1h-1zM457 145h1v1h-1zM459 145h2v1h-2zM462 145h1v1h-1zM464 145h1v1h-1zM466 145h14v1h-14zM481 145h1v1h-1zM483 145h2v1h-2zM486 145h1v1h-1zM488 145h1v1h-1zM1425 145h1v1h-1zM447 146h2v1h-2zM450 146h1v1h-1zM452 146h1v1h-1zM454 146h2v1h-2zM457 146h13v1h-13zM471 146h2v1h-2zM474 146h1v1h-1zM476 146h1v1h-1zM478 146h2v1h-2zM1425 146h1v1h-1zM436 147h1v1h-1zM438 147h1v1h-1zM440 147h1v1h-1zM442 147h2v1h-2zM445 147h1v1h-1zM447 147h14v1h-14zM462 147h1v1h-1zM464 147h1v1h-1zM466 147h2v1h-2zM469 147h1v1h-1zM1412 147h14v1h-14zM426 148h1v1h-1zM428 148h1v1h-1zM430 148h2v1h-2zM433 148h1v1h-1zM435 148h16v1h-16zM452 148h1v1h-1zM454 148h2v1h-2zM457 148h1v1h-1zM459 148h1v1h-1zM1425 148h1v1h-1zM414 149h1v1h-1zM416 149h1v1h-1zM418 149h2v1h-2zM421 149h1v1h-1zM423 149h2v1h-2zM426 149h15v1h-15zM442 149h2v1h-2zM445 149h1v1h-1zM447 149h2v1h-2zM1425 149h1v1h-1zM394 150h2v1h-2zM397 150h1v1h-1zM399 150h2v1h-2zM402 150h1v1h-1zM404 150h1v1h-1zM406 150h2v1h-2zM409 150h1v1h-1zM411 150h2v1h-2zM414 150h15v1h-15zM430 150h2v1h-2zM433 150h1v1h-1zM435 150h2v1h-2zM438 150h1v1h-1zM1425 150h1v1h-1zM375 151h2v1h-2zM378 151h1v1h-1zM380 151h1v1h-1zM382 151h2v1h-2zM385 151h1v1h-1zM387 151h2v1h-2zM390 151h1v1h-1zM392 151h1v1h-1zM394 151h26v1h-26zM421 151h1v1h-1zM423 151h2v1h-2zM426 151h1v1h-1zM428 151h1v1h-1zM1425 151h1v1h-1zM356 152h1v1h-1zM358 152h2v1h-2zM361 152h1v1h-1zM363 152h2v1h-2zM366 152h1v1h-1zM368 152h1v1h-1zM370 152h2v1h-2zM373 152h1v1h-1zM375 152h26v1h-26zM402 152h1v1h-1zM404 152h1v1h-1zM406 152h2v1h-2zM409 152h1v1h-1zM411 152h2v1h-2zM414 152h1v1h-1zM416 152h1v1h-1zM418 152h1v1h-1zM1425 152h1v1h-1zM337 153h1v1h-1zM339 153h2v1h-2zM342 153h1v1h-1zM344 153h1v1h-1zM346 153h2v1h-2zM349 153h1v1h-1zM351 153h2v1h-2zM354 153h27v1h-27zM382 153h2v1h-2zM385 153h1v1h-1zM387 153h2v1h-2zM390 153h1v1h-1zM392 153h1v1h-1zM394 153h2v1h-2zM397 153h1v1h-1zM1425 153h1v1h-1zM316 154h1v1h-1zM318 154h1v1h-1zM320 154h1v1h-1zM322 154h2v1h-2zM325 154h1v1h-1zM327 154h2v1h-2zM330 154h1v1h-1zM332 154h1v1h-1zM334 154h26v1h-26zM361 154h1v1h-1zM363 154h2v1h-2zM366 154h1v1h-1zM368 154h1v1h-1zM370 154h2v1h-2zM373 154h1v1h-1zM375 154h2v1h-2zM378 154h1v1h-1zM1412 154h14v1h-14zM75 155h2v1h-2zM78 155h1v1h-1zM80 155h1v1h-1zM82 155h2v1h-2zM85 155h1v1h-1zM87 155h2v1h-2zM90 155h1v1h-1zM92 155h1v1h-1zM94 155h2v1h-2zM97 155h1v1h-1zM99 155h2v1h-2zM102 155h1v1h-1zM104 155h1v1h-1zM106 155h2v1h-2zM298 155h2v1h-2zM301 155h1v1h-1zM303 155h2v1h-2zM306 155h1v1h-1zM308 155h1v1h-1zM310 155h2v1h-2zM313 155h1v1h-1zM315 155h26v1h-26zM342 155h1v1h-1zM344 155h1v1h-1zM346 155h2v1h-2zM349 155h1v1h-1zM351 155h2v1h-2zM354 155h1v1h-1zM356 155h1v1h-1zM358 155h2v1h-2zM1425 155h1v1h-1zM75 156h35v1h-35zM111 156h2v1h-2zM114 156h1v1h-1zM116 156h1v1h-1zM118 156h2v1h-2zM121 156h1v1h-1zM123 156h2v1h-2zM126 156h1v1h-1zM128 156h1v1h-1zM130 156h2v1h-2zM133 156h1v1h-1zM135 156h2v1h-2zM138 156h1v1h-1zM140 156h1v1h-1zM142 156h2v1h-2zM145 156h1v1h-1zM147 156h2v1h-2zM150 156h1v1h-1zM152 156h1v1h-1zM154 156h2v1h-2zM157 156h1v1h-1zM159 156h2v1h-2zM162 156h1v1h-1zM164 156h1v1h-1zM166 156h2v1h-2zM169 156h1v1h-1zM171 156h2v1h-2zM174 156h1v1h-1zM176 156h1v1h-1zM178 156h2v1h-2zM181 156h1v1h-1zM183 156h2v1h-2zM186 156h1v1h-1zM188 156h1v1h-1zM190 156h2v1h-2zM193 156h1v1h-1zM195 156h2v1h-2zM198 156h1v1h-1zM200 156h1v1h-1zM202 156h2v1h-2zM205 156h1v1h-1zM207 156h2v1h-2zM210 156h1v1h-1zM212 156h1v1h-1zM214 156h2v1h-2zM217 156h1v1h-1zM219 156h2v1h-2zM222 156h1v1h-1zM224 156h1v1h-1zM226 156h2v1h-2zM229 156h1v1h-1zM231 156h2v1h-2zM234 156h1v1h-1zM236 156h1v1h-1zM238 156h2v1h-2zM241 156h1v1h-1zM243 156h2v1h-2zM246 156h1v1h-1zM248 156h1v1h-1zM250 156h2v1h-2zM253 156h1v1h-1zM255 156h2v1h-2zM258 156h1v1h-1zM260 156h1v1h-1zM262 156h2v1h-2zM265 156h1v1h-1zM267 156h2v1h-2zM270 156h1v1h-1zM272 156h1v1h-1zM274 156h2v1h-2zM277 156h1v1h-1zM279 156h2v1h-2zM282 156h1v1h-1zM284 156h1v1h-1zM286 156h2v1h-2zM289 156h1v1h-1zM291 156h2v1h-2zM294 156h1v1h-1zM296 156h25v1h-25zM322 156h2v1h-2zM325 156h1v1h-1zM327 156h2v1h-2zM330 156h1v1h-1zM332 156h1v1h-1zM334 156h2v1h-2zM337 156h1v1h-1zM339 156h2v1h-2zM1425 156h1v1h-1zM75 157h2v1h-2zM78 157h1v1h-1zM80 157h1v1h-1zM82 157h2v1h-2zM85 157h1v1h-1zM87 157h2v1h-2zM90 157h1v1h-1zM92 157h1v1h-1zM94 157h2v1h-2zM97 157h1v1h-1zM99 157h2v1h-2zM102 157h1v1h-1zM104 157h198v1h-198zM303 157h2v1h-2zM306 157h1v1h-1zM308 157h1v1h-1zM310 157h2v1h-2zM313 157h1v1h-1zM315 157h2v1h-2zM318 157h1v1h-1zM320 157h1v1h-1zM1425 157h1v1h-1zM104 158h1v1h-1zM106 158h2v1h-2zM109 158h1v1h-1zM111 158h2v1h-2zM114 158h1v1h-1zM116 158h1v1h-1zM118 158h2v1h-2zM121 158h1v1h-1zM123 158h2v1h-2zM126 158h1v1h-1zM128 158h1v1h-1zM130 158h2v1h-2zM133 158h1v1h-1zM135 158h2v1h-2zM138 158h1v1h-1zM140 158h1v1h-1zM142 158h2v1h-2zM145 158h1v1h-1zM147 158h2v1h-2zM150 158h1v1h-1zM152 158h1v1h-1zM154 158h2v1h-2zM157 158h1v1h-1zM159 158h2v1h-2zM162 158h1v1h-1zM164 158h1v1h-1zM166 158h2v1h-2zM169 158h1v1h-1zM171 158h2v1h-2zM174 158h1v1h-1zM176 158h1v1h-1zM178 158h2v1h-2zM181 158h1v1h-1zM183 158h2v1h-2zM186 158h1v1h-1zM188 158h1v1h-1zM190 158h2v1h-2zM193 158h1v1h-1zM195 158h2v1h-2zM198 158h1v1h-1zM200 158h1v1h-1zM202 158h2v1h-2zM205 158h1v1h-1zM207 158h2v1h-2zM210 158h1v1h-1zM212 158h1v1h-1zM214 158h2v1h-2zM217 158h1v1h-1zM219 158h2v1h-2zM222 158h1v1h-1zM224 158h1v1h-1zM226 158h2v1h-2zM229 158h1v1h-1zM231 158h2v1h-2zM234 158h1v1h-1zM236 158h1v1h-1zM238 158h2v1h-2zM241 158h1v1h-1zM243 158h2v1h-2zM246 158h1v1h-1zM248 158h1v1h-1zM250 158h2v1h-2zM253 158h1v1h-1zM255 158h2v1h-2zM258 158h1v1h-1zM260 158h1v1h-1zM262 158h2v1h-2zM265 158h1v1h-1zM267 158h2v1h-2zM270 158h1v1h-1zM272 158h1v1h-1zM274 158h2v1h-2zM277 158h1v1h-1zM279 158h2v1h-2zM282 158h1v1h-1zM284 158h1v1h-1zM286 158h2v1h-2zM289 158h1v1h-1zM291 158h2v1h-2zM294 158h1v1h-1zM296 158h1v1h-1zM298 158h2v1h-2zM301 158h1v1h-1zM1425 158h1v1h-1zM1425 159h1v1h-1zM1398 160h28v1h-28zM1425 161h1v1h-1zM1425 162h1v1h-1zM1425 163h1v1h-1zM1425 164h1v1h-1zM1425 165h1v1h-1zM1425 166h1v1h-1zM1412 167h14v1h-14zM1425 168h1v1h-1zM1425 169h1v1h-1zM1425 170h1v1h-1zM1425 171h1v1h-1zM1425 172h1v1h-1zM1425 173h1v1h-1zM1412 174h14v1h-14zM1425 175h1v1h-1zM1425 176h1v1h-1zM1425 177h1v1h-1zM1425 178h1v1h-1zM1425 179h1v1h-1zM1412 180h14v1h-14zM1425 181h1v1h-1zM1425 182h1v1h-1zM1425 183h1v1h-1zM1425 184h1v1h-1zM1425 185h1v1h-1zM1425 186h1v1h-1zM1412 187h14v1h-14zM1425 188h1v1h-1z"/>
</g>
<g opacity="0.999">
<text x="72" y="189.1" font-size="11.5" text-anchor="end">3</text>
<text x="72" y="163.3" font-size="11.5" text-anchor="end">4</text>
<text x="72" y="137.5" font-size="11.5" text-anchor="end">5</text>
<text x="72" y="111.8" font-size="11.5" text-anchor="end">6</text>
<text x="72" y="86.0" font-size="11.5" text-anchor="end">7</text>
<text x="72" y="60.3" font-size="11.5" text-anchor="end">8</text>
<text x="72" y="34.5" font-size="11.5" text-anchor="end">9</text>
<text x="72" y="208.5" font-size="11.5" text-anchor="end">1.0</text>
<text x="72" y="246.0" font-size="11.5" text-anchor="end">0.5</text>
<text x="72" y="283.5" font-size="11.5" text-anchor="end">0.0</text>
<text x="72" y="321.0" font-size="11.5" text-anchor="end" textLength="24.5" lengthAdjust="spacingAndGlyphs">−0.5</text>
<text x="72" y="358.5" font-size="11.5" text-anchor="end" textLength="24.5" lengthAdjust="spacingAndGlyphs">−1.0</text>
<text x="1429" y="164.9" font-size="11.5" fill="#ff00ff">400</text>
<text x="1429" y="132.2" font-size="11.5" fill="#ff00ff">450</text>
<text x="1429" y="99.4" font-size="11.5" fill="#ff00ff">500</text>
<text x="1429" y="66.7" font-size="11.5" fill="#ff00ff">550</text>
<text x="1429" y="33.9" font-size="11.5" fill="#ff00ff">600</text>
<text x="121.4" y="385" font-size="12.3" text-anchor="middle" textLength="29.5" lengthAdjust="spacingAndGlyphs">12:00</text>
<text x="121.2" y="394" font-size="11" text-anchor="middle" textLength="35.8" lengthAdjust="spacingAndGlyphs">Aug.26</text>
<text x="331.6" y="385" font-size="12.3" text-anchor="middle" textLength="23.3" lengthAdjust="spacingAndGlyphs">0:00</text>
<text x="329.2" y="394" font-size="11" text-anchor="middle" textLength="35.8" lengthAdjust="spacingAndGlyphs">Aug.27</text>
<text x="537.4" y="385" font-size="12.3" text-anchor="middle" textLength="29.5" lengthAdjust="spacingAndGlyphs">12:00</text>
<text x="537.2" y="394" font-size="11" text-anchor="middle" textLength="35.8" lengthAdjust="spacingAndGlyphs">Aug.27</text>
<text x="746.6" y="385" font-size="12.3" text-anchor="middle" textLength="23.3" lengthAdjust="spacingAndGlyphs">0:00</text>
<text x="744.2" y="394" font-size="11" text-anchor="middle" textLength="35.8" lengthAdjust="spacingAndGlyphs">Aug.28</text>
<text x="952.4" y="385" font-size="12.3" text-anchor="middle" textLength="29.5" lengthAdjust="spacingAndGlyphs">12:00</text>
<text x="952.2" y="394" font-size="11" text-anchor="middle" textLength="35.8" lengthAdjust="spacingAndGlyphs">Aug.28</text>
<text x="1162.6" y="385" font-size="12.3" text-anchor="middle" textLength="23.3" lengthAdjust="spacingAndGlyphs">0:00</text>
<text x="1160.2" y="394" font-size="11" text-anchor="middle" textLength="35.8" lengthAdjust="spacingAndGlyphs">Aug.29</text>
<text x="1367.4" y="385" font-size="12.3" text-anchor="middle" textLength="29.5" lengthAdjust="spacingAndGlyphs">12:00</text>
<text x="1367.2" y="394" font-size="11" text-anchor="middle" textLength="35.8" lengthAdjust="spacingAndGlyphs">Aug.29</text>
<text x="750" y="405.5" font-size="11" text-anchor="middle" textLength="259" lengthAdjust="spacingAndGlyphs" word-spacing="3">hours:minutes, Aug. 26, 2014 − Aug. 29, 2014</text>
<text x="27" y="99.7" font-size="11" text-anchor="middle" textLength="26.5" lengthAdjust="spacingAndGlyphs" transform="rotate(-90 27 99.7)">ENLIL</text>
<text x="37" y="99.9" font-size="11" text-anchor="middle" textLength="56.7" lengthAdjust="spacingAndGlyphs" transform="rotate(-90 37 99.9)" word-spacing="6">Ion Density</text>
<text x="56.5" y="100.2" font-size="13" text-anchor="middle" textLength="34.5" lengthAdjust="spacingAndGlyphs" transform="rotate(-90 56.5 100.2)"><tspan stroke="#000" stroke-width="0.5">[</tspan>cm<tspan dy="-6" font-size="8">−3</tspan><tspan dy="6">]</tspan></text>
<text x="1461" y="99.7" font-size="11" text-anchor="middle" textLength="26.5" lengthAdjust="spacingAndGlyphs" transform="rotate(-90 1461 99.7)">ENLIL</text>
<text x="1470" y="100" font-size="11" text-anchor="middle" textLength="40" lengthAdjust="spacingAndGlyphs" transform="rotate(-90 1470 100)">Velocity</text>
<text x="1481.5" y="99.7" font-size="12.5" text-anchor="middle" textLength="37.5" lengthAdjust="spacingAndGlyphs" transform="rotate(-90 1481.5 99.7)">[km/s]</text>
<text x="18" y="279.3" font-size="11" text-anchor="middle" textLength="27" lengthAdjust="spacingAndGlyphs" transform="rotate(-90 18 279.3)">ENLIL</text>
<text x="28" y="279.5" font-size="11" text-anchor="middle" textLength="52.5" lengthAdjust="spacingAndGlyphs" word-spacing="3" transform="rotate(-90 28 279.5)">B<tspan dy="2.5" font-size="7.5">r</tspan><tspan dy="-2.5"> polarity</tspan></text>
</g>
</svg>
</body></html>
